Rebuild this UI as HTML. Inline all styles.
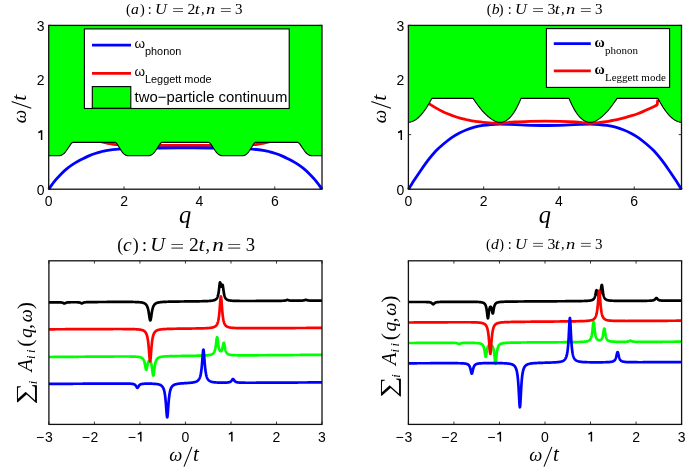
<!DOCTYPE html>
<html><head><meta charset="utf-8"><style>
html,body{margin:0;padding:0;background:#fff;}
body{width:685px;height:467px;overflow:hidden;}
svg{display:block;}
svg{will-change:transform;}
.tk{font-family:"Liberation Sans",sans-serif;font-size:14px;fill:#000;}
.lg2{font-family:"Liberation Sans",sans-serif;font-size:14.9px;fill:#000;}
.sub{font-family:"Liberation Sans",sans-serif;font-size:10.9px;fill:#000;}
.subs{font-family:"Liberation Serif",serif;font-size:11px;fill:#000;}
text{font-family:"Liberation Sans",sans-serif;}
</style></head><body>
<svg width="685" height="467" viewBox="0 0 685 467">
<rect width="685" height="467" fill="#fff"/>
<path d="M48.70,189.20v-2.8M48.70,25.40v2.8" stroke="#222" stroke-width="0.9"/>
<path d="M124.06,189.20v-2.8M124.06,25.40v2.8" stroke="#222" stroke-width="0.9"/>
<path d="M199.42,189.20v-2.8M199.42,25.40v2.8" stroke="#222" stroke-width="0.9"/>
<path d="M274.78,189.20v-2.8M274.78,25.40v2.8" stroke="#222" stroke-width="0.9"/>
<path d="M48.70,189.20h2.8M322.00,189.20h-2.8" stroke="#222" stroke-width="0.9"/>
<path d="M48.70,134.60h2.8M322.00,134.60h-2.8" stroke="#222" stroke-width="0.9"/>
<path d="M48.70,80.00h2.8M322.00,80.00h-2.8" stroke="#222" stroke-width="0.9"/>
<path d="M48.70,25.40h2.8M322.00,25.40h-2.8" stroke="#222" stroke-width="0.9"/>
<path d="M408.40,189.20v-2.8M408.40,25.40v2.8" stroke="#222" stroke-width="0.9"/>
<path d="M483.68,189.20v-2.8M483.68,25.40v2.8" stroke="#222" stroke-width="0.9"/>
<path d="M558.96,189.20v-2.8M558.96,25.40v2.8" stroke="#222" stroke-width="0.9"/>
<path d="M634.24,189.20v-2.8M634.24,25.40v2.8" stroke="#222" stroke-width="0.9"/>
<path d="M408.40,189.20h2.8M681.50,189.20h-2.8" stroke="#222" stroke-width="0.9"/>
<path d="M408.40,134.60h2.8M681.50,134.60h-2.8" stroke="#222" stroke-width="0.9"/>
<path d="M408.40,80.00h2.8M681.50,80.00h-2.8" stroke="#222" stroke-width="0.9"/>
<path d="M408.40,25.40h2.8M681.50,25.40h-2.8" stroke="#222" stroke-width="0.9"/>
<path d="M48.90,424.40v-2.8M48.90,260.80v2.8" stroke="#222" stroke-width="0.9"/>
<path d="M94.42,424.40v-2.8M94.42,260.80v2.8" stroke="#222" stroke-width="0.9"/>
<path d="M139.93,424.40v-2.8M139.93,260.80v2.8" stroke="#222" stroke-width="0.9"/>
<path d="M185.45,424.40v-2.8M185.45,260.80v2.8" stroke="#222" stroke-width="0.9"/>
<path d="M230.97,424.40v-2.8M230.97,260.80v2.8" stroke="#222" stroke-width="0.9"/>
<path d="M276.48,424.40v-2.8M276.48,260.80v2.8" stroke="#222" stroke-width="0.9"/>
<path d="M322.00,424.40v-2.8M322.00,260.80v2.8" stroke="#222" stroke-width="0.9"/>
<path d="M408.40,424.40v-2.8M408.40,260.80v2.8" stroke="#222" stroke-width="0.9"/>
<path d="M453.93,424.40v-2.8M453.93,260.80v2.8" stroke="#222" stroke-width="0.9"/>
<path d="M499.47,424.40v-2.8M499.47,260.80v2.8" stroke="#222" stroke-width="0.9"/>
<path d="M545.00,424.40v-2.8M545.00,260.80v2.8" stroke="#222" stroke-width="0.9"/>
<path d="M590.53,424.40v-2.8M590.53,260.80v2.8" stroke="#222" stroke-width="0.9"/>
<path d="M636.07,424.40v-2.8M636.07,260.80v2.8" stroke="#222" stroke-width="0.9"/>
<path d="M681.60,424.40v-2.8M681.60,260.80v2.8" stroke="#222" stroke-width="0.9"/>
<path d="M70.00,131.00 C72.50,131.92 80.83,135.07 85.00,136.50 C89.17,137.93 92.17,138.72 95.00,139.60 C97.83,140.48 99.83,141.15 102.00,141.80 C104.17,142.45 106.17,143.08 108.00,143.50 C109.83,143.92 111.50,144.10 113.00,144.30 C114.50,144.50 114.17,144.55 117.00,144.70 C119.83,144.85 124.50,145.08 130.00,145.20 C135.50,145.32 140.78,145.35 150.00,145.40 C159.22,145.45 173.57,145.50 185.35,145.50 C197.13,145.50 211.47,145.45 220.70,145.40 C229.92,145.35 235.20,145.32 240.70,145.20 C246.20,145.08 250.87,144.85 253.70,144.70 C256.53,144.55 256.20,144.50 257.70,144.30 C259.20,144.10 260.87,143.92 262.70,143.50 C264.53,143.08 266.53,142.45 268.70,141.80 C270.87,141.15 272.87,140.48 275.70,139.60 C278.53,138.72 281.53,137.93 285.70,136.50 C289.87,135.07 298.20,131.92 300.70,131.00" fill="none" stroke="#f00" stroke-width="2.80" stroke-linejoin="round" stroke-linecap="butt"/>
<path d="M48.70,189.20 C49.25,188.43 50.77,186.23 52.00,184.60 C53.23,182.97 54.48,181.27 56.10,179.40 C57.72,177.53 59.83,175.23 61.70,173.40 C63.57,171.57 65.45,169.90 67.30,168.40 C69.15,166.90 70.95,165.63 72.80,164.40 C74.65,163.17 76.53,162.03 78.40,161.00 C80.27,159.97 82.15,159.10 84.00,158.20 C85.85,157.30 87.65,156.38 89.50,155.60 C91.35,154.82 93.23,154.13 95.10,153.50 C96.97,152.87 98.88,152.28 100.70,151.80 C102.52,151.32 103.05,151.05 106.00,150.60 C108.95,150.15 113.57,149.48 118.40,149.10 C123.23,148.72 128.07,148.48 135.00,148.30 C141.93,148.12 151.61,148.07 160.00,148.00 C168.39,147.93 176.90,147.90 185.35,147.90 C193.80,147.90 202.31,147.93 210.70,148.00 C219.09,148.07 228.77,148.12 235.70,148.30 C242.63,148.48 247.47,148.72 252.30,149.10 C257.13,149.48 261.75,150.15 264.70,150.60 C267.65,151.05 268.18,151.32 270.00,151.80 C271.82,152.28 273.73,152.87 275.60,153.50 C277.47,154.13 279.35,154.82 281.20,155.60 C283.05,156.38 284.85,157.30 286.70,158.20 C288.55,159.10 290.43,159.97 292.30,161.00 C294.17,162.03 296.05,163.17 297.90,164.40 C299.75,165.63 301.55,166.90 303.40,168.40 C305.25,169.90 307.13,171.57 309.00,173.40 C310.87,175.23 312.98,177.53 314.60,179.40 C316.22,181.27 317.47,182.97 318.70,184.60 C319.93,186.23 321.45,188.43 322.00,189.20" fill="none" stroke="#00f" stroke-width="2.80" stroke-linejoin="round" stroke-linecap="butt"/>
<path d="M48.70,155.80L59.00,155.80L59.70,155.66L60.39,155.53L61.09,155.36L61.78,154.98L62.48,154.59L63.17,154.11L63.87,153.55L64.56,152.96L65.25,152.11L65.95,151.26L66.65,150.30L67.34,149.26L68.03,148.23L68.73,147.20L69.43,146.17L70.12,145.14L70.82,144.19L71.51,143.43L72.21,142.66L72.90,142.35L115.30,142.35L115.94,142.66L116.57,143.43L117.20,144.19L117.84,145.14L118.47,146.17L119.11,147.20L119.75,148.23L120.38,149.26L121.02,150.30L121.65,151.26L122.28,152.11L122.92,152.96L123.55,153.55L124.19,154.11L124.83,154.59L125.46,154.98L126.09,155.36L126.73,155.53L127.36,155.66L128.00,155.80L148.40,155.80L149.08,155.66L149.75,155.53L150.43,155.36L151.10,154.98L151.78,154.59L152.45,154.11L153.12,153.55L153.80,152.96L154.47,152.11L155.15,151.26L155.83,150.30L156.50,149.26L157.18,148.23L157.85,147.20L158.53,146.17L159.20,145.14L159.88,144.19L160.55,143.43L161.22,142.66L161.90,142.35L208.80,142.35L209.47,142.66L210.15,143.43L210.82,144.19L211.50,145.14L212.17,146.17L212.85,147.20L213.52,148.23L214.20,149.26L214.87,150.30L215.55,151.26L216.22,152.11L216.90,152.96L217.57,153.55L218.25,154.11L218.92,154.59L219.60,154.98L220.27,155.36L220.95,155.53L221.62,155.66L222.30,155.80L242.70,155.80L243.33,155.66L243.97,155.53L244.60,155.36L245.24,154.98L245.88,154.59L246.51,154.11L247.14,153.55L247.78,152.96L248.41,152.11L249.05,151.26L249.68,150.30L250.32,149.26L250.95,148.23L251.59,147.20L252.22,146.17L252.86,145.14L253.49,144.19L254.13,143.43L254.76,142.66L255.40,142.35L297.80,142.35L298.49,142.66L299.19,143.43L299.88,144.19L300.58,145.14L301.27,146.17L301.97,147.20L302.66,148.23L303.36,149.26L304.05,150.30L304.75,151.26L305.44,152.11L306.14,152.96L306.83,153.55L307.53,154.11L308.22,154.59L308.92,154.98L309.62,155.36L310.31,155.53L311.00,155.66L311.70,155.80L322.00,155.80L322.00,25.40L48.70,25.40Z" fill="#0f0"/>
<path d="M48.70,155.80L59.00,155.80L59.70,155.66L60.39,155.53L61.09,155.36L61.78,154.98L62.48,154.59L63.17,154.11L63.87,153.55L64.56,152.96L65.25,152.11L65.95,151.26L66.65,150.30L67.34,149.26L68.03,148.23L68.73,147.20L69.43,146.17L70.12,145.14L70.82,144.19L71.51,143.43L72.21,142.66L72.90,142.35L115.30,142.35L115.94,142.66L116.57,143.43L117.20,144.19L117.84,145.14L118.47,146.17L119.11,147.20L119.75,148.23L120.38,149.26L121.02,150.30L121.65,151.26L122.28,152.11L122.92,152.96L123.55,153.55L124.19,154.11L124.83,154.59L125.46,154.98L126.09,155.36L126.73,155.53L127.36,155.66L128.00,155.80L148.40,155.80L149.08,155.66L149.75,155.53L150.43,155.36L151.10,154.98L151.78,154.59L152.45,154.11L153.12,153.55L153.80,152.96L154.47,152.11L155.15,151.26L155.83,150.30L156.50,149.26L157.18,148.23L157.85,147.20L158.53,146.17L159.20,145.14L159.88,144.19L160.55,143.43L161.22,142.66L161.90,142.35L208.80,142.35L209.47,142.66L210.15,143.43L210.82,144.19L211.50,145.14L212.17,146.17L212.85,147.20L213.52,148.23L214.20,149.26L214.87,150.30L215.55,151.26L216.22,152.11L216.90,152.96L217.57,153.55L218.25,154.11L218.92,154.59L219.60,154.98L220.27,155.36L220.95,155.53L221.62,155.66L222.30,155.80L242.70,155.80L243.33,155.66L243.97,155.53L244.60,155.36L245.24,154.98L245.88,154.59L246.51,154.11L247.14,153.55L247.78,152.96L248.41,152.11L249.05,151.26L249.68,150.30L250.32,149.26L250.95,148.23L251.59,147.20L252.22,146.17L252.86,145.14L253.49,144.19L254.13,143.43L254.76,142.66L255.40,142.35L297.80,142.35L298.49,142.66L299.19,143.43L299.88,144.19L300.58,145.14L301.27,146.17L301.97,147.20L302.66,148.23L303.36,149.26L304.05,150.30L304.75,151.26L305.44,152.11L306.14,152.96L306.83,153.55L307.53,154.11L308.22,154.59L308.92,154.98L309.62,155.36L310.31,155.53L311.00,155.66L311.70,155.80L322.00,155.80" fill="none" stroke="#000" stroke-width="1.10" stroke-linejoin="round" stroke-linecap="butt"/>
<path d="M408.40,189.20 C408.83,188.53 410.02,186.72 411.00,185.20 C411.98,183.68 412.73,182.47 414.30,180.10 C415.87,177.73 418.10,174.32 420.40,171.00 C422.70,167.68 425.53,163.53 428.10,160.20 C430.67,156.87 433.23,153.70 435.80,151.00 C438.37,148.30 440.92,146.20 443.50,144.00 C446.08,141.80 448.72,139.60 451.30,137.80 C453.88,136.00 456.43,134.55 459.00,133.20 C461.57,131.85 464.13,130.70 466.70,129.70 C469.27,128.70 471.68,127.92 474.40,127.20 C477.12,126.48 480.23,125.85 483.00,125.40 C485.77,124.95 488.23,124.72 491.00,124.50 C493.77,124.28 496.43,124.12 499.60,124.10 C502.77,124.08 505.77,124.23 510.00,124.40 C514.23,124.57 519.17,124.92 525.00,125.10 C530.83,125.28 538.35,125.50 545.00,125.50 C551.65,125.50 559.08,125.28 564.90,125.10 C570.72,124.92 575.67,124.57 579.90,124.40 C584.13,124.23 587.13,124.08 590.30,124.10 C593.47,124.12 596.13,124.28 598.90,124.50 C601.67,124.72 604.13,124.95 606.90,125.40 C609.67,125.85 612.78,126.48 615.50,127.20 C618.22,127.92 620.63,128.70 623.20,129.70 C625.77,130.70 628.33,131.85 630.90,133.20 C633.47,134.55 636.02,136.00 638.60,137.80 C641.18,139.60 643.82,141.80 646.40,144.00 C648.98,146.20 651.53,148.30 654.10,151.00 C656.67,153.70 659.23,156.87 661.80,160.20 C664.37,163.53 667.20,167.68 669.50,171.00 C671.80,174.32 674.03,177.73 675.60,180.10 C677.17,182.47 677.92,183.68 678.90,185.20 C679.88,186.72 681.07,188.53 681.50,189.20" fill="none" stroke="#00f" stroke-width="2.80" stroke-linejoin="round" stroke-linecap="butt"/>
<path d="M428.50,103.20 C428.70,103.35 428.33,103.23 429.70,104.10 C431.07,104.97 434.57,107.18 436.70,108.40 C438.83,109.62 440.55,110.47 442.50,111.40 C444.45,112.33 446.45,113.18 448.40,114.00 C450.35,114.82 452.27,115.62 454.20,116.30 C456.13,116.98 458.05,117.57 460.00,118.10 C461.95,118.63 463.95,119.05 465.90,119.50 C467.85,119.95 469.75,120.43 471.70,120.80 C473.65,121.17 475.65,121.43 477.60,121.70 C479.55,121.97 481.47,122.20 483.40,122.40 C485.33,122.60 487.25,122.77 489.20,122.90 C491.15,123.03 493.35,123.13 495.10,123.20 C496.85,123.27 498.05,123.37 499.70,123.30 C501.35,123.23 502.45,123.03 505.00,122.80 C507.55,122.57 510.83,122.13 515.00,121.90 C519.17,121.67 525.00,121.52 530.00,121.40 C535.00,121.28 540.00,121.20 545.00,121.20 C550.00,121.20 555.00,121.27 560.00,121.40 C565.00,121.53 570.83,121.75 575.00,122.00 C579.17,122.25 582.37,122.68 585.00,122.90 C587.63,123.12 588.85,123.32 590.80,123.30 C592.75,123.28 594.75,123.00 596.70,122.80 C598.65,122.60 600.55,122.35 602.50,122.10 C604.45,121.85 606.45,121.62 608.40,121.30 C610.35,120.98 612.27,120.60 614.20,120.20 C616.13,119.80 618.05,119.37 620.00,118.90 C621.95,118.43 623.95,117.93 625.90,117.40 C627.85,116.87 629.75,116.32 631.70,115.70 C633.65,115.08 635.65,114.42 637.60,113.70 C639.55,112.98 641.47,112.22 643.40,111.40 C645.33,110.58 647.25,109.68 649.20,108.80 C651.15,107.92 653.77,106.80 655.10,106.10 C656.43,105.40 656.85,104.85 657.20,104.60 L657.8,99.6" fill="none" stroke="#f00" stroke-width="2.80" stroke-linejoin="round" stroke-linecap="butt"/>
<path d="M408.40,122.30L409.38,122.24L410.35,122.09L411.32,121.84L412.30,121.51L413.27,121.09L414.25,120.58L415.22,120.00L416.20,119.34L417.18,118.59L418.15,117.77L419.12,116.87L420.10,115.90L421.07,114.84L422.05,113.72L423.02,112.51L424.00,111.24L424.98,109.89L425.95,108.46L426.93,106.97L427.90,105.40L428.88,103.76L429.85,102.04L430.82,100.26L431.80,98.40L473.10,98.40L474.20,100.07L475.31,101.69L476.41,103.25L477.52,104.77L478.62,106.23L479.73,107.64L480.83,109.00L481.93,110.30L483.04,111.55L484.14,112.74L485.25,113.87L486.35,114.94L487.45,115.96L488.56,116.90L489.66,117.79L490.77,118.61L491.87,119.36L492.98,120.04L494.08,120.64L495.18,121.16L496.29,121.60L497.39,121.95L498.50,122.19L499.60,122.30L500.49,122.28L501.38,122.20L502.28,122.05L503.17,121.84L504.06,121.54L504.95,121.17L505.84,120.71L506.73,120.17L507.62,119.54L508.52,118.82L509.41,118.00L510.30,117.10L511.19,116.10L512.08,115.00L512.98,113.80L513.87,112.51L514.76,111.11L515.65,109.61L516.54,108.00L517.43,106.30L518.33,104.48L519.22,102.56L520.11,100.54L521.00,98.40L569.00,98.40L569.90,100.54L570.81,102.56L571.71,104.48L572.62,106.30L573.52,108.00L574.42,109.61L575.33,111.11L576.23,112.51L577.14,113.80L578.04,115.00L578.95,116.10L579.85,117.10L580.75,118.00L581.66,118.82L582.56,119.54L583.47,120.17L584.37,120.71L585.28,121.17L586.18,121.54L587.08,121.84L587.99,122.05L588.89,122.20L589.80,122.28L590.70,122.30L591.80,122.19L592.89,121.95L593.99,121.60L595.08,121.16L596.18,120.64L597.28,120.04L598.37,119.36L599.47,118.61L600.56,117.79L601.66,116.90L602.75,115.96L603.85,114.94L604.95,113.87L606.04,112.74L607.14,111.55L608.23,110.30L609.33,109.00L610.42,107.64L611.52,106.23L612.62,104.77L613.71,103.25L614.81,101.69L615.90,100.07L617.00,98.40L658.00,98.40L658.98,100.26L659.96,102.04L660.94,103.76L661.92,105.40L662.90,106.97L663.88,108.46L664.85,109.89L665.83,111.24L666.81,112.51L667.79,113.72L668.77,114.84L669.75,115.90L670.73,116.87L671.71,117.77L672.69,118.59L673.67,119.34L674.65,120.00L675.62,120.58L676.60,121.09L677.58,121.51L678.56,121.84L679.54,122.09L680.52,122.24L681.50,122.30L681.50,25.40L408.40,25.40Z" fill="#0f0"/>
<path d="M408.40,122.30L409.38,122.24L410.35,122.09L411.32,121.84L412.30,121.51L413.27,121.09L414.25,120.58L415.22,120.00L416.20,119.34L417.18,118.59L418.15,117.77L419.12,116.87L420.10,115.90L421.07,114.84L422.05,113.72L423.02,112.51L424.00,111.24L424.98,109.89L425.95,108.46L426.93,106.97L427.90,105.40L428.88,103.76L429.85,102.04L430.82,100.26L431.80,98.40L473.10,98.40L474.20,100.07L475.31,101.69L476.41,103.25L477.52,104.77L478.62,106.23L479.73,107.64L480.83,109.00L481.93,110.30L483.04,111.55L484.14,112.74L485.25,113.87L486.35,114.94L487.45,115.96L488.56,116.90L489.66,117.79L490.77,118.61L491.87,119.36L492.98,120.04L494.08,120.64L495.18,121.16L496.29,121.60L497.39,121.95L498.50,122.19L499.60,122.30L500.49,122.28L501.38,122.20L502.28,122.05L503.17,121.84L504.06,121.54L504.95,121.17L505.84,120.71L506.73,120.17L507.62,119.54L508.52,118.82L509.41,118.00L510.30,117.10L511.19,116.10L512.08,115.00L512.98,113.80L513.87,112.51L514.76,111.11L515.65,109.61L516.54,108.00L517.43,106.30L518.33,104.48L519.22,102.56L520.11,100.54L521.00,98.40L569.00,98.40L569.90,100.54L570.81,102.56L571.71,104.48L572.62,106.30L573.52,108.00L574.42,109.61L575.33,111.11L576.23,112.51L577.14,113.80L578.04,115.00L578.95,116.10L579.85,117.10L580.75,118.00L581.66,118.82L582.56,119.54L583.47,120.17L584.37,120.71L585.28,121.17L586.18,121.54L587.08,121.84L587.99,122.05L588.89,122.20L589.80,122.28L590.70,122.30L591.80,122.19L592.89,121.95L593.99,121.60L595.08,121.16L596.18,120.64L597.28,120.04L598.37,119.36L599.47,118.61L600.56,117.79L601.66,116.90L602.75,115.96L603.85,114.94L604.95,113.87L606.04,112.74L607.14,111.55L608.23,110.30L609.33,109.00L610.42,107.64L611.52,106.23L612.62,104.77L613.71,103.25L614.81,101.69L615.90,100.07L617.00,98.40L658.00,98.40L658.98,100.26L659.96,102.04L660.94,103.76L661.92,105.40L662.90,106.97L663.88,108.46L664.85,109.89L665.83,111.24L666.81,112.51L667.79,113.72L668.77,114.84L669.75,115.90L670.73,116.87L671.71,117.77L672.69,118.59L673.67,119.34L674.65,120.00L675.62,120.58L676.60,121.09L677.58,121.51L678.56,121.84L679.54,122.09L680.52,122.24L681.50,122.30" fill="none" stroke="#000" stroke-width="1.10" stroke-linejoin="round" stroke-linecap="butt"/>
<path d="M48.90,302.32L49.40,302.32L49.90,302.31L50.40,302.31L50.90,302.31L51.40,302.31L51.90,302.31L52.40,302.31L52.90,302.30L53.40,302.30L53.90,302.30L54.40,302.30L54.90,302.30L55.40,302.30L55.90,302.30L56.40,302.31L56.90,302.31L57.40,302.31L57.90,302.32L58.40,302.33L58.40,302.33L58.55,302.33L58.70,302.33L58.85,302.34L58.90,302.34L59.00,302.34L59.15,302.35L59.30,302.35L59.40,302.35L59.45,302.35L59.60,302.36L59.75,302.37L59.90,302.37L59.90,302.37L60.05,302.38L60.20,302.39L60.35,302.40L60.40,302.40L60.50,302.41L60.65,302.42L60.80,302.43L60.90,302.44L60.95,302.44L61.10,302.46L61.25,302.48L61.40,302.49L61.40,302.49L61.55,302.52L61.70,302.54L61.85,302.57L61.90,302.58L62.00,302.60L62.15,302.63L62.30,302.67L62.40,302.70L62.45,302.71L62.60,302.76L62.75,302.82L62.90,302.88L62.90,302.88L63.05,302.94L63.20,303.02L63.35,303.10L63.40,303.12L63.50,303.18L63.65,303.26L63.80,303.34L63.90,303.39L63.95,303.41L64.10,303.47L64.25,303.51L64.40,303.52L64.40,303.52L64.55,303.51L64.70,303.47L64.85,303.41L64.90,303.39L65.00,303.34L65.15,303.26L65.30,303.17L65.40,303.11L65.45,303.09L65.60,303.01L65.75,302.93L65.90,302.86L65.90,302.86L66.05,302.80L66.20,302.74L66.35,302.69L66.40,302.68L66.50,302.65L66.65,302.61L66.80,302.57L66.90,302.55L66.95,302.54L67.10,302.51L67.25,302.49L67.40,302.47L67.40,302.47L67.55,302.45L67.70,302.43L67.85,302.41L67.90,302.41L68.00,302.40L68.15,302.38L68.30,302.37L68.40,302.36L68.45,302.36L68.60,302.35L68.75,302.34L68.90,302.33L68.90,302.33L69.05,302.32L69.20,302.31L69.35,302.31L69.40,302.31L69.50,302.30L69.65,302.30L69.80,302.29L69.90,302.29L69.95,302.29L70.10,302.28L70.25,302.28L70.40,302.27L70.90,302.26L71.40,302.25L71.90,302.24L72.40,302.24L72.90,302.23L73.40,302.23L73.90,302.23L74.40,302.23L74.90,302.23L75.40,302.23L75.80,302.24L75.90,302.24L75.95,302.24L76.10,302.24L76.25,302.25L76.40,302.25L76.40,302.25L76.55,302.25L76.70,302.26L76.85,302.26L76.90,302.26L77.00,302.27L77.15,302.27L77.30,302.28L77.40,302.28L77.45,302.29L77.60,302.29L77.75,302.30L77.90,302.31L77.90,302.31L78.05,302.32L78.20,302.33L78.35,302.35L78.40,302.35L78.50,302.36L78.65,302.38L78.80,302.40L78.90,302.41L78.95,302.42L79.10,302.44L79.25,302.47L79.40,302.50L79.40,302.50L79.55,302.53L79.70,302.57L79.85,302.61L79.90,302.63L80.00,302.66L80.15,302.72L80.30,302.78L80.40,302.82L80.45,302.84L80.60,302.92L80.75,303.00L80.90,303.08L80.90,303.08L81.05,303.16L81.20,303.24L81.35,303.31L81.40,303.33L81.50,303.37L81.65,303.40L81.80,303.42L81.90,303.41L81.95,303.40L82.10,303.36L82.25,303.30L82.40,303.23L82.40,303.23L82.55,303.15L82.70,303.06L82.85,302.98L82.90,302.95L83.00,302.90L83.15,302.82L83.30,302.75L83.40,302.71L83.45,302.69L83.60,302.64L83.75,302.59L83.90,302.54L83.90,302.54L84.05,302.50L84.20,302.46L84.35,302.43L84.40,302.42L84.50,302.40L84.65,302.38L84.80,302.35L84.90,302.34L84.95,302.33L85.10,302.32L85.25,302.30L85.40,302.28L85.40,302.28L85.55,302.27L85.70,302.26L85.85,302.24L85.90,302.24L86.00,302.23L86.15,302.22L86.30,302.22L86.40,302.21L86.45,302.21L86.60,302.20L86.75,302.19L86.90,302.19L86.90,302.19L87.05,302.18L87.20,302.17L87.35,302.17L87.40,302.17L87.50,302.16L87.65,302.16L87.90,302.15L88.40,302.14L88.90,302.12L89.40,302.11L89.90,302.11L90.40,302.10L90.90,302.09L91.40,302.08L91.90,302.08L92.40,302.07L92.90,302.07L93.40,302.06L93.90,302.06L94.40,302.05L94.90,302.05L95.40,302.05L95.90,302.04L96.40,302.04L96.90,302.03L97.40,302.03L97.90,302.03L98.40,302.02L98.90,302.02L99.40,302.02L99.90,302.01L100.40,302.01L100.90,302.01L101.40,302.00L101.90,302.00L102.40,302.00L102.90,302.00L103.40,301.99L103.90,301.99L104.40,301.99L104.90,301.98L105.40,301.98L105.90,301.98L106.40,301.98L106.90,301.97L107.40,301.97L107.90,301.97L108.40,301.97L108.90,301.96L109.40,301.96L109.90,301.96L110.40,301.96L110.90,301.95L111.40,301.95L111.90,301.95L112.40,301.95L112.90,301.94L113.40,301.94L113.90,301.94L114.40,301.94L114.90,301.94L115.40,301.94L115.90,301.93L116.40,301.93L116.90,301.93L117.40,301.93L117.90,301.93L118.40,301.93L118.90,301.92L119.40,301.92L119.90,301.92L120.40,301.92L120.90,301.92L121.40,301.92L121.90,301.92L122.40,301.92L122.90,301.92L123.40,301.92L123.90,301.92L124.40,301.92L124.90,301.92L125.40,301.92L125.90,301.92L126.40,301.92L126.90,301.92L127.40,301.92L127.90,301.93L128.40,301.93L128.90,301.93L129.40,301.93L129.90,301.94L130.40,301.94L130.90,301.95L131.40,301.95L131.90,301.96L132.40,301.96L132.90,301.97L133.40,301.98L133.90,301.99L134.40,302.00L134.90,302.01L135.40,302.03L135.90,302.04L136.40,302.06L136.90,302.08L137.40,302.10L137.90,302.13L138.40,302.16L138.90,302.19L139.40,302.23L139.90,302.27L140.40,302.33L140.90,302.39L141.40,302.46L141.90,302.54L142.40,302.64L142.90,302.76L143.10,302.81L143.25,302.86L143.40,302.90L143.40,302.90L143.55,302.95L143.70,303.00L143.85,303.06L143.90,303.08L144.00,303.12L144.15,303.18L144.30,303.25L144.40,303.30L144.45,303.32L144.60,303.40L144.75,303.49L144.90,303.57L144.90,303.57L145.05,303.67L145.20,303.78L145.35,303.89L145.40,303.93L145.50,304.01L145.65,304.14L145.80,304.28L145.90,304.38L145.95,304.44L146.10,304.60L146.25,304.79L146.40,304.99L146.40,304.99L146.55,305.20L146.70,305.44L146.85,305.70L146.90,305.80L147.00,305.99L147.15,306.31L147.30,306.66L147.40,306.91L147.45,307.04L147.60,307.46L147.75,307.93L147.90,308.44L147.90,308.44L148.05,309.01L148.20,309.64L148.35,310.32L148.40,310.56L148.50,311.07L148.65,311.89L148.80,312.76L148.90,313.38L148.95,313.70L149.10,314.68L149.25,315.69L149.40,316.71L149.40,316.71L149.55,317.68L149.70,318.58L149.85,319.36L149.90,319.58L150.00,319.95L150.15,320.33L150.30,320.46L150.40,320.40L150.45,320.33L150.60,319.95L150.75,319.35L150.90,318.58L150.90,318.58L151.05,317.67L151.20,316.69L151.35,315.68L151.40,315.34L151.50,314.67L151.65,313.68L151.80,312.75L151.90,312.15L151.95,311.86L152.10,311.05L152.25,310.30L152.40,309.61L152.40,309.61L152.55,308.98L152.70,308.41L152.85,307.90L152.90,307.73L153.00,307.43L153.15,307.00L153.30,306.62L153.40,306.38L153.45,306.27L153.60,305.95L153.75,305.66L153.90,305.40L153.90,305.40L154.05,305.16L154.20,304.94L154.35,304.73L154.40,304.67L154.50,304.55L154.65,304.38L154.80,304.22L154.90,304.13L154.95,304.08L155.10,303.95L155.25,303.82L155.40,303.71L155.40,303.71L155.55,303.60L155.70,303.50L155.85,303.41L155.90,303.38L156.00,303.33L156.15,303.25L156.30,303.17L156.40,303.13L156.45,303.10L156.60,303.04L156.75,302.98L156.90,302.92L156.90,302.92L157.05,302.86L157.20,302.81L157.35,302.76L157.40,302.75L157.90,302.61L158.40,302.49L158.90,302.39L159.40,302.31L159.90,302.23L160.40,302.17L160.90,302.12L161.40,302.07L161.90,302.03L162.40,301.99L162.90,301.95L163.40,301.92L163.90,301.89L164.40,301.87L164.90,301.84L165.40,301.82L165.90,301.80L166.40,301.78L166.90,301.77L167.40,301.75L167.90,301.74L168.40,301.72L168.90,301.71L169.40,301.70L169.90,301.69L170.40,301.67L170.90,301.66L171.40,301.65L171.90,301.64L172.40,301.63L172.90,301.63L173.40,301.62L173.90,301.61L174.40,301.60L174.90,301.59L175.40,301.59L175.90,301.58L176.40,301.57L176.90,301.56L177.40,301.56L177.90,301.55L178.40,301.54L178.90,301.54L179.40,301.53L179.90,301.52L180.40,301.52L180.90,301.51L181.40,301.51L181.90,301.50L182.40,301.50L182.90,301.49L183.40,301.48L183.90,301.48L184.40,301.47L184.90,301.47L185.40,301.46L185.90,301.46L186.40,301.45L186.90,301.44L187.40,301.44L187.90,301.43L188.40,301.43L188.90,301.42L189.40,301.42L189.90,301.41L190.40,301.40L190.90,301.40L191.40,301.39L191.90,301.39L192.40,301.38L192.90,301.37L193.40,301.37L193.90,301.36L194.40,301.36L194.90,301.35L195.40,301.34L195.90,301.34L196.40,301.33L196.90,301.32L197.40,301.31L197.90,301.31L198.40,301.30L198.90,301.29L199.40,301.28L199.90,301.27L200.40,301.27L200.90,301.26L201.40,301.25L201.90,301.24L202.40,301.22L202.90,301.21L203.40,301.20L203.90,301.19L204.40,301.17L204.90,301.16L205.40,301.14L205.90,301.13L206.40,301.11L206.90,301.09L207.40,301.07L207.90,301.04L208.40,301.02L208.90,300.99L209.40,300.95L209.90,300.91L210.40,300.87L210.90,300.82L211.40,300.77L211.90,300.70L212.40,300.63L212.90,300.54L213.40,300.43L213.90,300.30L214.40,300.13L214.80,299.97L214.90,299.93L214.95,299.91L215.10,299.83L215.25,299.75L215.40,299.67L215.40,299.67L215.55,299.57L215.70,299.47L215.85,299.36L215.90,299.32L216.00,299.24L216.15,299.10L216.30,298.96L216.40,298.85L216.45,298.79L216.60,298.62L216.75,298.42L216.90,298.20L216.90,298.20L217.05,297.95L217.20,297.68L217.35,297.37L217.40,297.25L217.50,297.02L217.55,296.89L217.65,296.62L217.70,296.48L217.80,296.17L217.85,296.01L217.90,295.84L217.95,295.66L218.00,295.48L218.10,295.08L218.15,294.87L218.25,294.42L218.30,294.18L218.40,293.67L218.40,293.67L218.45,293.40L218.55,292.81L218.60,292.50L218.70,291.85L218.75,291.50L218.85,290.76L218.90,290.37L218.90,290.37L219.00,289.56L219.05,289.14L219.15,288.28L219.20,287.83L219.30,286.93L219.35,286.48L219.40,286.04L219.45,285.60L219.50,285.18L219.60,284.38L219.65,284.01L219.75,283.37L219.80,283.10L219.90,282.68L219.90,282.68L219.95,282.53L220.05,282.37L220.10,282.35L220.20,282.45L220.25,282.55L220.35,282.86L220.40,283.06L220.40,283.06L220.50,283.50L220.55,283.75L220.65,284.25L220.70,284.51L220.80,285.00L220.85,285.23L220.90,285.46L220.95,285.66L221.00,285.85L221.10,286.18L221.15,286.31L221.25,286.52L221.30,286.59L221.40,286.66L221.40,286.66L221.45,286.67L221.55,286.62L221.60,286.56L221.70,286.40L221.75,286.30L221.85,286.05L221.90,285.91L221.90,285.91L222.00,285.62L222.05,285.48L222.15,285.20L222.20,285.07L222.30,284.87L222.35,284.80L222.40,284.76L222.45,284.74L222.50,284.76L222.60,284.89L222.65,285.01L222.75,285.34L222.80,285.56L222.90,286.08L222.90,286.08L222.95,286.38L223.05,287.04L223.10,287.39L223.20,288.13L223.25,288.51L223.35,289.28L223.40,289.66L223.40,289.66L223.50,290.40L223.55,290.77L223.65,291.47L223.70,291.81L223.80,292.45L223.85,292.76L223.90,293.05L223.95,293.33L224.00,293.61L224.10,294.12L224.15,294.36L224.25,294.82L224.30,295.03L224.40,295.43L224.40,295.43L224.45,295.61L224.55,295.96L224.60,296.13L224.70,296.44L224.75,296.58L224.85,296.85L224.90,296.98L224.90,296.98L225.00,297.22L225.05,297.33L225.15,297.54L225.20,297.64L225.35,297.92L225.40,298.00L225.50,298.16L225.65,298.38L225.80,298.58L225.90,298.70L225.95,298.76L226.10,298.91L226.25,299.06L226.40,299.19L226.40,299.19L226.55,299.31L226.70,299.42L226.85,299.52L226.90,299.55L227.00,299.61L227.15,299.69L227.30,299.77L227.40,299.82L227.45,299.84L227.60,299.91L227.75,299.97L227.90,300.02L228.40,300.19L228.90,300.32L229.40,300.42L229.90,300.50L230.40,300.58L230.90,300.63L231.40,300.68L231.90,300.73L232.40,300.76L232.90,300.79L233.40,300.82L233.90,300.84L234.40,300.86L234.90,300.88L235.40,300.90L235.90,300.91L236.40,300.92L236.90,300.93L237.40,300.94L237.90,300.95L238.40,300.96L238.90,300.96L239.40,300.97L239.90,300.98L240.40,300.98L240.90,300.98L241.40,300.99L241.90,300.99L242.40,300.99L242.90,300.99L243.40,300.99L243.90,301.00L244.40,301.00L244.90,301.00L245.40,301.00L245.90,301.00L246.40,301.00L246.90,301.00L247.40,301.00L247.90,301.00L248.40,301.00L248.90,300.99L249.40,300.99L249.90,300.99L250.40,300.99L250.90,300.99L251.40,300.99L251.90,300.99L252.40,300.99L252.90,300.98L253.40,300.98L253.90,300.98L254.40,300.98L254.90,300.98L255.40,300.98L255.90,300.97L256.40,300.97L256.90,300.97L257.40,300.97L257.90,300.96L258.40,300.96L258.90,300.96L259.40,300.96L259.90,300.96L260.40,300.95L260.90,300.95L261.40,300.95L261.90,300.95L262.40,300.94L262.90,300.94L263.40,300.94L263.90,300.93L264.40,300.93L264.90,300.93L265.40,300.93L265.90,300.92L266.40,300.92L266.90,300.92L267.40,300.91L267.90,300.91L268.40,300.91L268.90,300.91L269.40,300.90L269.90,300.90L270.40,300.90L270.90,300.89L271.40,300.89L271.90,300.89L272.40,300.88L272.90,300.88L273.40,300.88L273.90,300.87L274.40,300.87L274.90,300.87L275.40,300.86L275.90,300.86L276.40,300.85L276.90,300.85L277.40,300.84L277.90,300.84L278.40,300.83L278.90,300.83L279.40,300.82L279.90,300.81L280.40,300.81L280.90,300.80L281.40,300.79L281.55,300.78L281.70,300.78L281.85,300.78L281.90,300.77L282.00,300.77L282.15,300.77L282.30,300.76L282.40,300.76L282.45,300.76L282.60,300.75L282.75,300.75L282.90,300.74L282.90,300.74L283.05,300.73L283.20,300.73L283.35,300.72L283.40,300.72L283.50,300.71L283.65,300.70L283.80,300.69L283.90,300.68L283.95,300.68L284.10,300.67L284.25,300.66L284.40,300.64L284.40,300.64L284.55,300.62L284.70,300.61L284.85,300.59L284.90,300.58L285.00,300.56L285.15,300.54L285.30,300.51L285.40,300.49L285.45,300.48L285.60,300.44L285.75,300.40L285.90,300.36L285.90,300.36L286.05,300.31L286.20,300.26L286.35,300.20L286.40,300.18L286.50,300.15L286.65,300.09L286.80,300.03L286.90,299.99L286.95,299.98L287.10,299.94L287.25,299.91L287.40,299.90L287.40,299.90L287.55,299.91L287.70,299.93L287.85,299.97L287.90,299.99L288.00,300.02L288.15,300.08L288.30,300.13L288.40,300.17L288.45,300.19L288.60,300.24L288.75,300.30L288.90,300.34L288.90,300.34L289.05,300.38L289.20,300.42L289.35,300.45L289.40,300.46L289.50,300.48L289.65,300.51L289.80,300.53L289.90,300.55L289.95,300.55L290.10,300.57L290.25,300.59L290.40,300.60L290.40,300.60L290.55,300.61L290.70,300.62L290.85,300.63L290.90,300.64L291.00,300.64L291.15,300.65L291.30,300.66L291.40,300.66L291.45,300.67L291.60,300.67L291.75,300.68L291.90,300.68L291.90,300.68L292.05,300.68L292.20,300.69L292.35,300.69L292.40,300.69L292.50,300.69L292.65,300.70L292.80,300.70L292.90,300.70L292.95,300.70L293.10,300.70L293.25,300.70L293.40,300.71L293.90,300.71L294.40,300.71L294.90,300.71L295.40,300.71L295.90,300.71L296.40,300.71L296.90,300.70L297.40,300.70L297.90,300.70L298.40,300.69L298.90,300.68L299.40,300.67L299.80,300.67L299.90,300.66L299.95,300.66L300.10,300.66L300.25,300.66L300.40,300.65L300.40,300.65L300.55,300.65L300.70,300.64L300.85,300.64L300.90,300.64L301.00,300.63L301.15,300.63L301.30,300.62L301.40,300.62L301.45,300.62L301.60,300.61L301.75,300.60L301.90,300.59L301.90,300.59L302.05,300.59L302.20,300.58L302.35,300.57L302.40,300.56L302.50,300.55L302.65,300.54L302.80,300.53L302.90,300.52L302.95,300.51L303.10,300.49L303.25,300.47L303.40,300.45L303.40,300.45L303.55,300.43L303.70,300.40L303.85,300.37L303.90,300.36L304.00,300.33L304.15,300.29L304.30,300.25L304.40,300.22L304.45,300.20L304.60,300.15L304.75,300.09L304.90,300.03L304.90,300.03L305.05,299.97L305.20,299.92L305.35,299.87L305.40,299.85L305.50,299.83L305.65,299.80L305.80,299.79L305.90,299.79L305.95,299.80L306.10,299.82L306.25,299.86L306.40,299.91L306.40,299.91L306.55,299.97L306.70,300.02L306.85,300.08L306.90,300.10L307.00,300.14L307.15,300.19L307.30,300.23L307.40,300.26L307.45,300.27L307.60,300.31L307.75,300.35L307.90,300.37L307.90,300.37L308.05,300.40L308.20,300.42L308.35,300.45L308.40,300.45L308.50,300.46L308.65,300.48L308.80,300.49L308.90,300.50L308.95,300.51L309.10,300.52L309.25,300.53L309.40,300.54L309.40,300.54L309.55,300.55L309.70,300.55L309.85,300.56L309.90,300.56L310.00,300.57L310.15,300.57L310.30,300.58L310.40,300.58L310.45,300.58L310.60,300.58L310.75,300.59L310.90,300.59L310.90,300.59L311.05,300.59L311.20,300.60L311.35,300.60L311.40,300.60L311.50,300.60L311.65,300.60L311.90,300.60L312.40,300.61L312.90,300.61L313.40,300.61L313.90,300.61L314.40,300.61L314.90,300.61L315.40,300.61L315.90,300.61L316.40,300.61L316.90,300.61L317.40,300.61L317.90,300.61L318.40,300.60L318.90,300.60L319.40,300.60L319.90,300.60L320.40,300.60L320.90,300.59L321.40,300.59L321.90,300.59L322.00,300.59" fill="none" stroke="#000" stroke-width="2.70" stroke-linejoin="round" stroke-linecap="butt"/>
<path d="M48.90,357.00L49.40,357.00L49.90,357.00L50.40,356.99L50.90,356.99L51.40,356.99L51.90,356.98L52.40,356.98L52.90,356.97L53.40,356.97L53.90,356.97L54.40,356.96L54.90,356.96L55.40,356.95L55.90,356.95L56.40,356.95L56.90,356.94L57.40,356.94L57.90,356.93L58.40,356.93L58.90,356.93L59.40,356.92L59.90,356.92L60.40,356.91L60.90,356.91L61.40,356.91L61.90,356.90L62.40,356.90L62.90,356.89L63.40,356.89L63.90,356.89L64.40,356.88L64.90,356.88L65.40,356.87L65.90,356.87L66.40,356.87L66.90,356.86L67.40,356.86L67.90,356.85L68.40,356.85L68.90,356.85L69.40,356.84L69.90,356.84L70.40,356.84L70.90,356.83L71.40,356.83L71.90,356.82L72.40,356.82L72.90,356.82L73.40,356.81L73.90,356.81L74.40,356.80L74.90,356.80L75.40,356.80L75.90,356.79L76.40,356.79L76.90,356.78L77.40,356.78L77.90,356.78L78.40,356.77L78.90,356.77L79.40,356.77L79.90,356.76L80.40,356.76L80.90,356.75L81.40,356.75L81.90,356.75L82.40,356.74L82.90,356.74L83.40,356.73L83.90,356.73L84.40,356.73L84.90,356.72L85.40,356.72L85.90,356.72L86.40,356.71L86.90,356.71L87.40,356.70L87.90,356.70L88.40,356.70L88.90,356.69L89.40,356.69L89.90,356.69L90.40,356.68L90.90,356.68L91.40,356.67L91.90,356.67L92.40,356.67L92.90,356.66L93.40,356.66L93.90,356.66L94.40,356.65L94.90,356.65L95.40,356.65L95.90,356.64L96.40,356.64L96.90,356.63L97.40,356.63L97.90,356.63L98.40,356.62L98.90,356.62L99.40,356.62L99.90,356.61L100.40,356.61L100.90,356.61L101.40,356.60L101.90,356.60L102.40,356.60L102.90,356.59L103.40,356.59L103.90,356.59L104.40,356.58L104.90,356.58L105.40,356.58L105.90,356.57L106.40,356.57L106.90,356.57L107.40,356.56L107.90,356.56L108.40,356.56L108.90,356.55L109.40,356.55L109.90,356.55L110.40,356.55L110.90,356.54L111.40,356.54L111.90,356.54L112.40,356.53L112.90,356.53L113.40,356.53L113.90,356.53L114.40,356.52L114.90,356.52L115.40,356.52L115.90,356.52L116.40,356.51L116.90,356.51L117.40,356.51L117.90,356.51L118.40,356.51L118.90,356.50L119.40,356.50L119.90,356.50L120.40,356.50L120.90,356.50L121.40,356.50L121.90,356.50L122.40,356.50L122.90,356.50L123.40,356.50L123.90,356.50L124.40,356.50L124.90,356.50L125.40,356.50L125.90,356.50L126.40,356.50L126.90,356.50L127.40,356.50L127.90,356.51L128.40,356.51L128.90,356.52L129.40,356.52L129.90,356.52L130.40,356.53L130.90,356.54L131.40,356.55L131.90,356.56L132.40,356.57L132.90,356.58L133.40,356.59L133.90,356.61L134.40,356.62L134.90,356.65L135.40,356.67L135.90,356.70L136.40,356.73L136.90,356.76L137.40,356.81L137.90,356.86L138.40,356.92L138.90,356.99L139.40,357.07L139.90,357.18L140.20,357.25L140.35,357.29L140.40,357.31L140.50,357.34L140.65,357.38L140.80,357.44L140.90,357.47L140.95,357.49L141.10,357.55L141.25,357.61L141.40,357.68L141.40,357.68L141.55,357.75L141.70,357.83L141.85,357.92L141.90,357.95L142.00,358.02L142.15,358.12L142.30,358.23L142.40,358.31L142.45,358.36L142.60,358.49L142.75,358.64L142.90,358.81L142.90,358.81L143.05,358.99L143.20,359.20L143.35,359.43L143.40,359.51L143.50,359.68L143.65,359.96L143.80,360.28L143.90,360.51L143.95,360.64L144.10,361.04L144.25,361.49L144.40,361.99L144.40,361.99L144.55,362.55L144.70,363.18L144.85,363.87L144.90,364.11L145.00,364.62L145.15,365.42L145.30,366.27L145.40,366.83L145.45,367.12L145.60,367.94L145.75,368.67L145.90,369.26L145.90,369.26L146.05,369.66L146.20,369.81L146.35,369.72L146.40,369.63L146.50,369.39L146.65,368.86L146.80,368.19L146.90,367.69L146.95,367.44L147.10,366.65L147.25,365.88L147.30,365.63L147.40,365.15L147.40,365.15L147.45,364.91L147.55,364.47L147.60,364.26L147.70,363.86L147.75,363.67L147.85,363.31L147.90,363.15L147.90,363.15L148.00,362.84L148.05,362.69L148.15,362.43L148.20,362.30L148.30,362.07L148.35,361.97L148.40,361.87L148.45,361.77L148.50,361.69L148.60,361.53L148.65,361.46L148.75,361.33L148.80,361.27L148.90,361.17L148.90,361.17L148.95,361.13L149.05,361.05L149.10,361.02L149.20,360.97L149.25,360.95L149.35,360.93L149.40,360.92L149.40,360.92L149.50,360.92L149.55,360.92L149.65,360.94L149.70,360.96L149.80,361.00L149.85,361.03L149.90,361.06L149.95,361.10L150.00,361.14L150.10,361.23L150.15,361.28L150.25,361.40L150.30,361.46L150.40,361.61L150.40,361.61L150.45,361.69L150.55,361.86L150.60,361.96L150.70,362.17L150.75,362.28L150.85,362.53L150.90,362.66L150.90,362.66L151.00,362.94L151.05,363.10L151.15,363.43L151.20,363.61L151.30,363.99L151.35,364.19L151.40,364.40L151.45,364.62L151.50,364.86L151.60,365.35L151.65,365.61L151.75,366.17L151.80,366.47L151.90,367.09L151.90,367.09L151.95,367.41L152.05,368.10L152.10,368.46L152.25,369.58L152.40,370.76L152.40,370.76L152.55,371.95L152.70,373.09L152.85,374.11L152.90,374.41L153.00,374.92L153.15,375.43L153.30,375.59L153.40,375.49L153.45,375.38L153.60,374.82L153.75,373.97L153.90,372.90L153.90,372.90L154.05,371.71L154.20,370.47L154.35,369.24L154.40,368.84L154.50,368.06L154.65,366.97L154.80,365.96L154.90,365.34L154.95,365.05L155.10,364.23L155.25,363.50L155.40,362.84L155.40,362.84L155.55,362.26L155.70,361.75L155.85,361.28L155.90,361.14L156.00,360.87L156.15,360.51L156.30,360.18L156.40,359.98L156.45,359.88L156.60,359.61L156.75,359.37L156.90,359.16L156.90,359.16L157.05,358.96L157.20,358.78L157.35,358.62L157.40,358.57L157.50,358.47L157.65,358.33L157.80,358.21L157.90,358.13L157.95,358.09L158.10,357.99L158.25,357.89L158.40,357.80L158.40,357.80L158.55,357.71L158.70,357.64L158.85,357.56L158.90,357.54L159.00,357.49L159.15,357.43L159.40,357.33L159.90,357.17L160.40,357.03L160.90,356.92L161.40,356.83L161.90,356.75L162.40,356.68L162.90,356.62L163.40,356.56L163.90,356.52L164.40,356.48L164.90,356.44L165.40,356.41L165.90,356.37L166.40,356.35L166.90,356.32L167.40,356.30L167.90,356.28L168.40,356.26L168.90,356.24L169.40,356.22L169.90,356.21L170.40,356.19L170.90,356.18L171.40,356.16L171.90,356.15L172.40,356.14L172.90,356.12L173.40,356.11L173.90,356.10L174.40,356.09L174.90,356.08L175.40,356.07L175.90,356.06L176.40,356.05L176.90,356.04L177.40,356.03L177.90,356.03L178.40,356.02L178.90,356.01L179.40,356.00L179.90,355.99L180.40,355.98L180.90,355.98L181.40,355.97L181.90,355.96L182.40,355.95L182.90,355.95L183.40,355.94L183.90,355.93L184.40,355.92L184.90,355.92L185.40,355.91L185.90,355.90L186.40,355.89L186.90,355.89L187.40,355.88L187.90,355.87L188.40,355.87L188.90,355.86L189.40,355.85L189.90,355.84L190.40,355.84L190.90,355.83L191.40,355.82L191.90,355.81L192.40,355.80L192.90,355.80L193.40,355.79L193.90,355.78L194.40,355.77L194.90,355.76L195.40,355.75L195.90,355.74L196.40,355.73L196.90,355.72L197.40,355.71L197.90,355.70L198.40,355.69L198.90,355.68L199.40,355.67L199.90,355.65L200.40,355.64L200.90,355.63L201.40,355.61L201.90,355.59L202.40,355.58L202.90,355.56L203.40,355.54L203.90,355.52L204.40,355.49L204.90,355.47L205.40,355.44L205.90,355.41L206.40,355.37L206.90,355.33L207.40,355.29L207.90,355.24L208.40,355.18L208.90,355.12L209.40,355.04L209.90,354.95L210.40,354.84L210.90,354.70L211.40,354.53L211.50,354.50L211.65,354.44L211.80,354.37L211.90,354.32L211.95,354.30L212.10,354.22L212.25,354.14L212.40,354.05L212.40,354.05L212.55,353.96L212.70,353.85L212.85,353.74L212.90,353.70L213.00,353.62L213.15,353.48L213.30,353.33L213.40,353.22L213.45,353.17L213.60,352.98L213.75,352.78L213.90,352.56L213.90,352.56L214.05,352.31L214.20,352.03L214.35,351.72L214.40,351.61L214.50,351.37L214.65,350.97L214.80,350.53L214.90,350.20L214.95,350.02L215.10,349.45L215.25,348.81L215.40,348.07L215.40,348.07L215.55,347.25L215.70,346.32L215.85,345.29L215.90,344.93L216.00,344.16L216.15,342.95L216.30,341.69L216.40,340.85L216.45,340.44L216.60,339.26L216.75,338.26L216.90,337.54L216.90,337.54L217.05,337.19L217.20,337.23L217.35,337.67L217.40,337.90L217.50,338.45L217.65,339.47L217.80,340.63L217.90,341.44L217.95,341.85L218.10,343.05L218.20,343.81L218.25,344.18L218.35,344.89L218.40,345.22L218.40,345.22L218.50,345.86L218.55,346.16L218.65,346.73L218.70,346.99L218.80,347.49L218.85,347.73L218.90,347.95L218.95,348.16L219.00,348.36L219.10,348.74L219.15,348.91L219.25,349.24L219.30,349.39L219.40,349.66L219.40,349.66L219.45,349.79L219.55,350.03L219.60,350.13L219.70,350.33L219.75,350.42L219.85,350.58L219.90,350.66L219.90,350.66L220.00,350.79L220.05,350.85L220.15,350.95L220.20,351.00L220.30,351.07L220.35,351.11L220.40,351.13L220.45,351.16L220.50,351.18L220.60,351.20L220.65,351.21L220.75,351.22L220.80,351.21L220.90,351.19L220.90,351.19L220.95,351.17L221.05,351.13L221.10,351.10L221.20,351.03L221.25,350.98L221.35,350.88L221.40,350.83L221.40,350.83L221.50,350.70L221.55,350.63L221.65,350.46L221.70,350.37L221.80,350.18L221.85,350.07L221.90,349.95L221.95,349.83L222.00,349.70L222.10,349.42L222.15,349.27L222.25,348.94L222.30,348.77L222.40,348.39L222.40,348.39L222.45,348.19L222.55,347.77L222.60,347.54L222.70,347.07L222.85,346.32L222.90,346.06L223.00,345.53L223.15,344.74L223.30,344.00L223.40,343.57L223.45,343.38L223.60,342.95L223.75,342.76L223.90,342.83L223.90,342.83L224.05,343.17L224.20,343.74L224.35,344.47L224.40,344.74L224.50,345.30L224.65,346.16L224.80,347.01L224.90,347.55L224.95,347.81L225.10,348.56L225.25,349.24L225.40,349.85L225.40,349.85L225.55,350.39L225.70,350.87L225.85,351.29L225.90,351.42L226.00,351.66L226.15,351.99L226.30,352.29L226.40,352.46L226.45,352.55L226.60,352.78L226.75,352.98L226.90,353.17L226.90,353.17L227.05,353.33L227.20,353.48L227.35,353.62L227.40,353.66L227.50,353.74L227.65,353.85L227.80,353.95L227.90,354.01L227.95,354.04L228.10,354.12L228.25,354.20L228.40,354.27L228.40,354.27L228.55,354.33L228.70,354.39L228.85,354.45L228.90,354.46L229.00,354.50L229.15,354.54L229.30,354.59L229.40,354.62L229.90,354.74L230.40,354.83L230.90,354.91L231.40,354.97L231.90,355.03L232.40,355.07L232.90,355.11L233.40,355.14L233.90,355.17L234.40,355.19L234.90,355.21L235.40,355.23L235.90,355.24L236.40,355.26L236.90,355.27L237.40,355.28L237.90,355.29L238.40,355.30L238.90,355.30L239.40,355.31L239.90,355.31L240.40,355.32L240.90,355.32L241.40,355.32L241.90,355.32L242.40,355.33L242.90,355.33L243.40,355.33L243.90,355.33L244.40,355.33L244.90,355.33L245.40,355.33L245.90,355.33L246.40,355.33L246.90,355.33L247.40,355.33L247.90,355.33L248.40,355.33L248.90,355.32L249.40,355.32L249.90,355.32L250.40,355.32L250.90,355.32L251.40,355.31L251.90,355.31L252.40,355.31L252.90,355.31L253.40,355.31L253.90,355.30L254.40,355.30L254.90,355.30L255.40,355.30L255.90,355.29L256.40,355.29L256.90,355.29L257.40,355.28L257.90,355.28L258.40,355.28L258.90,355.28L259.40,355.27L259.90,355.27L260.40,355.27L260.90,355.26L261.40,355.26L261.90,355.26L262.40,355.25L262.90,355.25L263.40,355.25L263.90,355.24L264.40,355.24L264.90,355.24L265.40,355.23L265.90,355.23L266.40,355.23L266.90,355.22L267.40,355.22L267.90,355.22L268.40,355.21L268.90,355.21L269.40,355.20L269.90,355.20L270.40,355.20L270.90,355.19L271.40,355.19L271.90,355.19L272.40,355.18L272.90,355.18L273.40,355.18L273.90,355.17L274.40,355.17L274.90,355.16L275.40,355.16L275.90,355.16L276.40,355.15L276.90,355.15L277.40,355.15L277.90,355.14L278.40,355.14L278.90,355.13L279.40,355.13L279.90,355.13L280.40,355.12L280.90,355.12L281.40,355.12L281.90,355.11L282.40,355.11L282.90,355.10L283.40,355.10L283.90,355.10L284.40,355.09L284.90,355.09L285.40,355.08L285.90,355.08L286.40,355.08L286.90,355.07L287.40,355.07L287.90,355.07L288.40,355.06L288.90,355.06L289.40,355.05L289.90,355.05L290.40,355.05L290.90,355.04L291.40,355.04L291.90,355.03L292.40,355.03L292.90,355.03L293.40,355.02L293.90,355.02L294.40,355.02L294.90,355.01L295.40,355.01L295.90,355.00L296.40,355.00L296.90,355.00L297.40,354.99L297.90,354.99L298.40,354.98L298.90,354.98L299.40,354.98L299.90,354.97L300.40,354.97L300.90,354.96L301.40,354.96L301.90,354.96L302.40,354.95L302.90,354.95L303.40,354.94L303.90,354.94L304.40,354.94L304.90,354.93L305.40,354.93L305.90,354.92L306.40,354.92L306.90,354.92L307.40,354.91L307.90,354.91L308.40,354.90L308.90,354.90L309.40,354.90L309.90,354.89L310.40,354.89L310.90,354.89L311.40,354.88L311.90,354.88L312.40,354.87L312.90,354.87L313.40,354.87L313.90,354.86L314.40,354.86L314.90,354.85L315.40,354.85L315.90,354.85L316.40,354.84L316.90,354.84L317.40,354.83L317.90,354.83L318.40,354.83L318.90,354.82L319.40,354.82L319.90,354.81L320.40,354.81L320.90,354.81L321.40,354.80L321.90,354.80L322.00,354.80" fill="none" stroke="#0f0" stroke-width="2.70" stroke-linejoin="round" stroke-linecap="butt"/>
<path d="M48.90,329.31L49.40,329.30L49.90,329.30L50.40,329.30L50.90,329.30L51.40,329.29L51.90,329.29L52.40,329.29L52.90,329.29L53.40,329.28L53.90,329.28L54.40,329.28L54.90,329.28L55.40,329.27L55.90,329.27L56.40,329.27L56.90,329.27L57.40,329.26L57.90,329.26L58.40,329.26L58.90,329.26L59.40,329.25L59.90,329.25L60.40,329.25L60.90,329.25L61.40,329.24L61.90,329.24L62.40,329.24L62.90,329.24L63.40,329.23L63.90,329.23L64.40,329.23L64.90,329.23L65.40,329.22L65.90,329.22L66.40,329.22L66.90,329.22L67.40,329.21L67.90,329.21L68.40,329.21L68.90,329.21L69.40,329.20L69.90,329.20L70.40,329.20L70.90,329.20L71.40,329.19L71.90,329.19L72.40,329.19L72.90,329.19L73.40,329.19L73.90,329.18L74.40,329.18L74.90,329.18L75.40,329.18L75.90,329.17L76.40,329.17L76.90,329.17L77.40,329.17L77.90,329.16L78.40,329.16L78.90,329.16L79.40,329.16L79.90,329.15L80.40,329.15L80.90,329.15L81.40,329.15L81.90,329.15L82.40,329.14L82.90,329.14L83.40,329.14L83.90,329.14L84.40,329.13L84.90,329.13L85.40,329.13L85.90,329.13L86.40,329.12L86.90,329.12L87.40,329.12L87.90,329.12L88.40,329.12L88.90,329.11L89.40,329.11L89.90,329.11L90.40,329.11L90.90,329.10L91.40,329.10L91.90,329.10L92.40,329.10L92.90,329.10L93.40,329.09L93.90,329.09L94.40,329.09L94.90,329.09L95.40,329.08L95.90,329.08L96.40,329.08L96.90,329.08L97.40,329.08L97.90,329.07L98.40,329.07L98.90,329.07L99.40,329.07L99.90,329.07L100.40,329.06L100.90,329.06L101.40,329.06L101.90,329.06L102.40,329.06L102.90,329.06L103.40,329.05L103.90,329.05L104.40,329.05L104.90,329.05L105.40,329.05L105.90,329.05L106.40,329.04L106.90,329.04L107.40,329.04L107.90,329.04L108.40,329.04L108.90,329.04L109.40,329.03L109.90,329.03L110.40,329.03L110.90,329.03L111.40,329.03L111.90,329.03L112.40,329.03L112.90,329.03L113.40,329.02L113.90,329.02L114.40,329.02L114.90,329.02L115.40,329.02L115.90,329.02L116.40,329.02L116.90,329.02L117.40,329.02L117.90,329.02L118.40,329.02L118.90,329.02L119.40,329.02L119.90,329.02L120.40,329.02L120.90,329.02L121.40,329.02L121.90,329.02L122.40,329.02L122.90,329.03L123.40,329.03L123.90,329.03L124.40,329.03L124.90,329.03L125.40,329.04L125.90,329.04L126.40,329.04L126.90,329.05L127.40,329.05L127.90,329.06L128.40,329.06L128.90,329.07L129.40,329.07L129.90,329.08L130.40,329.09L130.90,329.10L131.40,329.11L131.90,329.12L132.40,329.13L132.90,329.14L133.40,329.15L133.90,329.17L134.40,329.19L134.90,329.21L135.40,329.23L135.90,329.25L136.40,329.28L136.90,329.31L137.40,329.35L137.90,329.38L138.40,329.43L138.90,329.48L139.40,329.54L139.90,329.61L140.40,329.68L140.90,329.77L141.40,329.88L141.90,330.01L142.40,330.16L142.90,330.34L143.40,330.56L143.70,330.72L143.85,330.81L143.90,330.84L144.00,330.90L144.15,331.00L144.30,331.10L144.40,331.18L144.45,331.22L144.60,331.34L144.75,331.47L144.90,331.61L144.90,331.61L145.05,331.77L145.20,331.93L145.35,332.11L145.40,332.18L145.50,332.31L145.65,332.52L145.80,332.76L145.90,332.92L145.95,333.01L146.10,333.29L146.25,333.59L146.40,333.92L146.40,333.92L146.55,334.29L146.70,334.70L146.85,335.14L146.90,335.30L147.00,335.64L147.15,336.19L147.30,336.81L147.40,337.25L147.45,337.49L147.60,338.25L147.75,339.11L147.90,340.06L147.90,340.06L148.05,341.12L148.20,342.30L148.35,343.62L148.40,344.09L148.50,345.08L148.65,346.67L148.80,348.41L148.90,349.64L148.95,350.27L149.10,352.22L149.25,354.20L149.40,356.13L149.40,356.13L149.55,357.92L149.70,359.45L149.85,360.59L149.90,360.87L150.00,361.24L150.15,361.33L150.30,360.86L150.40,360.26L150.45,359.88L150.60,358.46L150.75,356.75L150.90,354.84L150.90,354.84L151.05,352.86L151.20,350.90L151.35,349.00L151.40,348.40L151.50,347.22L151.65,345.58L151.80,344.07L151.90,343.15L151.95,342.71L152.10,341.48L152.25,340.37L152.40,339.39L152.40,339.39L152.55,338.50L152.70,337.71L152.85,337.00L152.90,336.78L153.00,336.36L153.15,335.79L153.30,335.27L153.40,334.95L153.45,334.80L153.60,334.38L153.75,334.00L153.90,333.65L153.90,333.65L154.05,333.34L154.20,333.05L154.35,332.79L154.40,332.71L154.50,332.55L154.65,332.33L154.80,332.13L154.90,332.00L154.95,331.94L155.10,331.77L155.25,331.61L155.40,331.46L155.40,331.46L155.55,331.32L155.70,331.20L155.85,331.08L155.90,331.04L156.00,330.97L156.15,330.86L156.30,330.77L156.40,330.71L156.45,330.68L156.90,330.44L157.40,330.22L157.90,330.04L158.40,329.89L158.90,329.76L159.40,329.65L159.90,329.56L160.40,329.48L160.90,329.41L161.40,329.34L161.90,329.29L162.40,329.24L162.90,329.20L163.40,329.16L163.90,329.12L164.40,329.09L164.90,329.06L165.40,329.03L165.90,329.01L166.40,328.98L166.90,328.96L167.40,328.94L167.90,328.93L168.40,328.91L168.90,328.89L169.40,328.88L169.90,328.86L170.40,328.85L170.90,328.84L171.40,328.83L171.90,328.81L172.40,328.80L172.90,328.79L173.40,328.78L173.90,328.77L174.40,328.76L174.90,328.76L175.40,328.75L175.90,328.74L176.40,328.73L176.90,328.72L177.40,328.71L177.90,328.71L178.40,328.70L178.90,328.69L179.40,328.69L179.90,328.68L180.40,328.67L180.90,328.67L181.40,328.66L181.90,328.65L182.40,328.65L182.90,328.64L183.40,328.63L183.90,328.63L184.40,328.62L184.90,328.62L185.40,328.61L185.90,328.60L186.40,328.60L186.90,328.59L187.40,328.59L187.90,328.58L188.40,328.57L188.90,328.57L189.40,328.56L189.90,328.56L190.40,328.55L190.90,328.54L191.40,328.54L191.90,328.53L192.40,328.52L192.90,328.52L193.40,328.51L193.90,328.50L194.40,328.49L194.90,328.49L195.40,328.48L195.90,328.47L196.40,328.46L196.90,328.45L197.40,328.45L197.90,328.44L198.40,328.43L198.90,328.42L199.40,328.41L199.90,328.40L200.40,328.39L200.90,328.37L201.40,328.36L201.90,328.35L202.40,328.33L202.90,328.32L203.40,328.30L203.90,328.29L204.40,328.27L204.90,328.25L205.40,328.23L205.90,328.21L206.40,328.18L206.90,328.15L207.40,328.12L207.90,328.09L208.40,328.05L208.90,328.01L209.40,327.97L209.90,327.91L210.40,327.86L210.90,327.79L211.40,327.71L211.90,327.62L212.40,327.52L212.90,327.39L213.40,327.25L213.90,327.07L214.40,326.85L214.90,326.59L215.05,326.49L215.20,326.39L215.35,326.29L215.40,326.25L215.50,326.17L215.65,326.05L215.80,325.92L215.90,325.82L215.95,325.77L216.10,325.62L216.25,325.45L216.40,325.26L216.40,325.26L216.55,325.06L216.70,324.84L216.85,324.60L216.90,324.51L217.00,324.33L217.15,324.04L217.30,323.72L217.40,323.49L217.45,323.37L217.60,322.97L217.75,322.54L217.90,322.05L217.90,322.05L218.05,321.51L218.20,320.90L218.35,320.22L218.40,319.98L218.50,319.46L218.65,318.60L218.80,317.64L218.90,316.93L218.95,316.55L219.10,315.33L219.25,313.96L219.40,312.44L219.40,312.44L219.55,310.76L219.70,308.93L219.85,306.96L219.90,306.29L220.00,304.91L220.15,302.84L220.30,300.85L220.40,299.64L220.45,299.08L220.60,297.67L220.75,296.75L220.90,296.43L220.90,296.43L221.05,296.75L221.20,297.66L221.35,299.07L221.40,299.63L221.50,300.85L221.65,302.83L221.80,304.90L221.90,306.28L221.95,306.95L222.10,308.92L222.25,310.75L222.40,312.43L222.40,312.43L222.55,313.95L222.70,315.31L222.85,316.53L222.90,316.90L223.00,317.61L223.15,318.58L223.30,319.43L223.40,319.95L223.45,320.19L223.60,320.87L223.75,321.48L223.90,322.02L223.90,322.02L224.05,322.50L224.20,322.94L224.35,323.33L224.40,323.45L224.50,323.68L224.65,324.00L224.80,324.29L224.90,324.47L224.95,324.55L225.10,324.79L225.25,325.01L225.40,325.21L225.40,325.21L225.55,325.39L225.70,325.56L225.85,325.72L225.90,325.76L226.00,325.86L226.15,325.99L226.30,326.11L226.40,326.19L226.45,326.23L226.60,326.33L226.75,326.43L226.90,326.52L227.40,326.78L227.90,326.99L228.40,327.16L228.90,327.30L229.40,327.42L229.90,327.52L230.40,327.60L230.90,327.68L231.40,327.74L231.90,327.79L232.40,327.84L232.90,327.88L233.40,327.91L233.90,327.94L234.40,327.97L234.90,327.99L235.40,328.02L235.90,328.04L236.40,328.05L236.90,328.07L237.40,328.08L237.90,328.09L238.40,328.11L238.90,328.12L239.40,328.12L239.90,328.13L240.40,328.14L240.90,328.15L241.40,328.15L241.90,328.16L242.40,328.16L242.90,328.17L243.40,328.17L243.90,328.17L244.40,328.18L244.90,328.18L245.40,328.18L245.90,328.18L246.40,328.19L246.90,328.19L247.40,328.19L247.90,328.19L248.40,328.19L248.90,328.19L249.40,328.19L249.90,328.19L250.40,328.19L250.90,328.19L251.40,328.19L251.90,328.19L252.40,328.19L252.90,328.19L253.40,328.19L253.90,328.19L254.40,328.19L254.90,328.19L255.40,328.19L255.90,328.19L256.40,328.19L256.90,328.19L257.40,328.18L257.90,328.18L258.40,328.18L258.90,328.18L259.40,328.18L259.90,328.18L260.40,328.18L260.90,328.18L261.40,328.17L261.90,328.17L262.40,328.17L262.90,328.17L263.40,328.17L263.90,328.17L264.40,328.16L264.90,328.16L265.40,328.16L265.90,328.16L266.40,328.16L266.90,328.15L267.40,328.15L267.90,328.15L268.40,328.15L268.90,328.15L269.40,328.14L269.90,328.14L270.40,328.14L270.90,328.14L271.40,328.14L271.90,328.13L272.40,328.13L272.90,328.13L273.40,328.13L273.90,328.13L274.40,328.12L274.90,328.12L275.40,328.12L275.90,328.12L276.40,328.12L276.90,328.11L277.40,328.11L277.90,328.11L278.40,328.11L278.90,328.10L279.40,328.10L279.90,328.10L280.40,328.10L280.90,328.10L281.40,328.09L281.90,328.09L282.40,328.09L282.90,328.09L283.40,328.08L283.90,328.08L284.40,328.08L284.90,328.08L285.40,328.07L285.90,328.07L286.40,328.07L286.90,328.07L287.40,328.07L287.90,328.06L288.40,328.06L288.90,328.06L289.40,328.06L289.90,328.05L290.40,328.05L290.90,328.05L291.40,328.05L291.90,328.04L292.40,328.04L292.90,328.04L293.40,328.04L293.90,328.03L294.40,328.03L294.90,328.03L295.40,328.03L295.90,328.02L296.40,328.02L296.90,328.02L297.40,328.02L297.90,328.02L298.40,328.01L298.90,328.01L299.40,328.01L299.90,328.01L300.40,328.00L300.90,328.00L301.40,328.00L301.90,328.00L302.40,327.99L302.90,327.99L303.40,327.99L303.90,327.99L304.40,327.98L304.90,327.98L305.40,327.98L305.90,327.98L306.40,327.97L306.90,327.97L307.40,327.97L307.90,327.97L308.40,327.96L308.90,327.96L309.40,327.96L309.90,327.96L310.40,327.95L310.90,327.95L311.40,327.95L311.90,327.95L312.40,327.94L312.90,327.94L313.40,327.94L313.90,327.94L314.40,327.93L314.90,327.93L315.40,327.93L315.90,327.93L316.40,327.92L316.90,327.92L317.40,327.92L317.90,327.92L318.40,327.91L318.90,327.91L319.40,327.91L319.90,327.91L320.40,327.90L320.90,327.90L321.40,327.90L321.90,327.90L322.00,327.90" fill="none" stroke="#f00" stroke-width="2.70" stroke-linejoin="round" stroke-linecap="butt"/>
<path d="M48.90,383.90L49.40,383.90L49.90,383.90L50.40,383.90L50.90,383.89L51.40,383.89L51.90,383.89L52.40,383.88L52.90,383.88L53.40,383.88L53.90,383.88L54.40,383.87L54.90,383.87L55.40,383.87L55.90,383.87L56.40,383.86L56.90,383.86L57.40,383.86L57.90,383.86L58.40,383.85L58.90,383.85L59.40,383.85L59.90,383.84L60.40,383.84L60.90,383.84L61.40,383.84L61.90,383.83L62.40,383.83L62.90,383.83L63.40,383.83L63.90,383.82L64.40,383.82L64.90,383.82L65.40,383.82L65.90,383.81L66.40,383.81L66.90,383.81L67.40,383.80L67.90,383.80L68.40,383.80L68.90,383.80L69.40,383.79L69.90,383.79L70.40,383.79L70.90,383.79L71.40,383.78L71.90,383.78L72.40,383.78L72.90,383.78L73.40,383.77L73.90,383.77L74.40,383.77L74.90,383.76L75.40,383.76L75.90,383.76L76.40,383.76L76.90,383.75L77.40,383.75L77.90,383.75L78.40,383.75L78.90,383.74L79.40,383.74L79.90,383.74L80.40,383.74L80.90,383.73L81.40,383.73L81.90,383.73L82.40,383.73L82.90,383.72L83.40,383.72L83.90,383.72L84.40,383.72L84.90,383.71L85.40,383.71L85.90,383.71L86.40,383.71L86.90,383.70L87.40,383.70L87.90,383.70L88.40,383.69L88.90,383.69L89.40,383.69L89.90,383.69L90.40,383.68L90.90,383.68L91.40,383.68L91.90,383.68L92.40,383.67L92.90,383.67L93.40,383.67L93.90,383.67L94.40,383.66L94.90,383.66L95.40,383.66L95.90,383.66L96.40,383.66L96.90,383.65L97.40,383.65L97.90,383.65L98.40,383.65L98.90,383.64L99.40,383.64L99.90,383.64L100.40,383.64L100.90,383.63L101.40,383.63L101.90,383.63L102.40,383.63L102.90,383.62L103.40,383.62L103.90,383.62L104.40,383.62L104.90,383.62L105.40,383.61L105.90,383.61L106.40,383.61L106.90,383.61L107.40,383.61L107.90,383.60L108.40,383.60L108.90,383.60L109.40,383.60L109.90,383.60L110.40,383.59L110.90,383.59L111.40,383.59L111.90,383.59L112.40,383.59L112.90,383.59L113.40,383.58L113.90,383.58L114.40,383.58L114.90,383.58L115.40,383.58L115.90,383.58L116.40,383.58L116.90,383.58L117.40,383.57L117.90,383.57L118.40,383.57L118.90,383.57L119.40,383.57L119.90,383.57L120.40,383.57L120.90,383.57L121.40,383.57L121.90,383.57L122.40,383.58L122.90,383.58L123.40,383.58L123.90,383.58L124.40,383.58L124.90,383.59L125.40,383.59L125.90,383.60L126.40,383.60L126.90,383.61L127.40,383.62L127.90,383.63L128.40,383.64L128.90,383.65L129.40,383.67L129.90,383.69L130.40,383.72L130.90,383.75L131.00,383.76L131.15,383.77L131.30,383.78L131.40,383.79L131.45,383.79L131.60,383.81L131.75,383.82L131.90,383.84L131.90,383.84L132.05,383.86L132.20,383.88L132.35,383.90L132.40,383.90L132.50,383.92L132.65,383.94L132.80,383.97L132.90,383.99L132.95,384.00L133.10,384.03L133.25,384.06L133.40,384.10L133.40,384.10L133.55,384.14L133.70,384.19L133.85,384.24L133.90,384.25L134.00,384.29L134.15,384.35L134.30,384.42L134.40,384.47L134.45,384.49L134.60,384.58L134.75,384.67L134.90,384.77L134.90,384.77L135.05,384.89L135.20,385.01L135.35,385.16L135.40,385.21L135.50,385.32L135.65,385.49L135.80,385.69L135.90,385.83L135.95,385.91L136.10,386.14L136.25,386.39L136.40,386.66L136.40,386.66L136.55,386.92L136.70,387.18L136.85,387.43L136.90,387.50L137.00,387.63L137.15,387.79L137.30,387.87L137.40,387.89L137.45,387.89L137.60,387.82L137.75,387.69L137.90,387.50L137.90,387.50L138.05,387.27L138.20,387.01L138.35,386.75L138.40,386.66L138.50,386.48L138.65,386.22L138.80,385.98L138.90,385.83L138.95,385.76L139.10,385.56L139.25,385.38L139.40,385.21L139.40,385.21L139.55,385.06L139.70,384.93L139.85,384.81L139.90,384.77L140.00,384.70L140.15,384.61L140.30,384.52L140.40,384.47L140.45,384.45L140.60,384.38L140.75,384.31L140.90,384.26L140.90,384.26L141.05,384.21L141.20,384.16L141.35,384.12L141.40,384.11L141.50,384.08L141.65,384.05L141.80,384.01L141.90,384.00L141.95,383.99L142.10,383.96L142.25,383.93L142.40,383.91L142.40,383.91L142.55,383.89L142.70,383.87L142.85,383.86L142.90,383.85L143.00,383.84L143.15,383.82L143.30,383.81L143.40,383.80L143.45,383.80L143.60,383.79L143.75,383.77L143.90,383.76L144.40,383.74L144.90,383.71L145.40,383.70L145.90,383.68L146.40,383.67L146.90,383.67L147.40,383.66L147.90,383.66L148.40,383.66L148.90,383.66L149.40,383.67L149.90,383.67L150.40,383.68L150.90,383.69L151.40,383.71L151.90,383.72L152.40,383.74L152.90,383.76L153.40,383.79L153.90,383.81L154.40,383.85L154.90,383.88L155.40,383.93L155.90,383.98L156.40,384.03L156.90,384.10L157.40,384.18L157.90,384.27L158.40,384.37L158.90,384.50L159.40,384.65L159.90,384.83L160.40,385.05L160.80,385.26L160.90,385.32L160.95,385.35L161.10,385.45L161.25,385.55L161.40,385.66L161.55,385.78L161.70,385.91L161.85,386.05L161.90,386.09L162.00,386.19L162.15,386.35L162.30,386.53L162.40,386.65L162.45,386.72L162.60,386.92L162.75,387.14L162.90,387.38L162.90,387.38L163.05,387.65L163.20,387.94L163.35,388.25L163.40,388.37L163.50,388.60L163.65,388.99L163.80,389.41L163.90,389.72L163.95,389.88L164.10,390.40L164.25,390.98L164.40,391.62L164.40,391.62L164.55,392.33L164.70,393.13L164.85,394.02L164.90,394.34L165.00,395.01L165.15,396.12L165.30,397.36L165.40,398.26L165.45,398.74L165.60,400.26L165.75,401.93L165.90,403.75L165.90,403.75L166.05,405.69L166.20,407.73L166.35,409.80L166.40,410.48L166.50,411.82L166.65,413.70L166.80,415.29L166.90,416.14L166.95,416.49L167.10,417.16L167.25,417.26L167.40,416.77L167.40,416.77L167.55,415.73L167.70,414.26L167.85,412.46L167.90,411.81L168.00,410.47L168.15,408.40L168.30,406.34L168.40,405.01L168.45,404.36L168.60,402.49L168.75,400.77L168.90,399.20L168.90,399.20L169.05,397.77L169.20,396.48L169.35,395.33L169.40,394.97L169.50,394.29L169.65,393.37L169.80,392.53L169.90,392.03L169.95,391.79L170.10,391.12L170.25,390.52L170.40,389.98L170.40,389.98L170.55,389.49L170.70,389.05L170.85,388.65L170.90,388.53L171.00,388.29L171.15,387.96L171.30,387.66L171.40,387.47L171.45,387.38L171.60,387.13L171.75,386.90L171.90,386.69L171.90,386.69L172.05,386.49L172.20,386.31L172.35,386.14L172.40,386.09L172.50,385.99L172.65,385.84L172.80,385.71L172.90,385.62L172.95,385.58L173.10,385.47L173.25,385.36L173.40,385.26L173.40,385.26L173.55,385.16L173.90,384.96L174.40,384.72L174.90,384.52L175.40,384.35L175.90,384.21L176.40,384.09L176.90,383.98L177.40,383.89L177.90,383.81L178.40,383.74L178.90,383.67L179.40,383.61L179.90,383.56L180.40,383.51L180.90,383.47L181.40,383.43L181.90,383.39L182.40,383.35L182.90,383.31L183.40,383.28L183.90,383.25L184.40,383.21L184.90,383.18L185.40,383.15L185.90,383.12L186.40,383.09L186.90,383.05L187.40,383.02L187.90,382.99L188.40,382.95L188.90,382.91L189.40,382.87L189.90,382.83L190.40,382.78L190.90,382.73L191.40,382.68L191.90,382.62L192.40,382.55L192.90,382.48L193.40,382.39L193.90,382.30L194.40,382.19L194.90,382.06L195.40,381.91L195.90,381.74L196.40,381.52L196.90,381.27L197.00,381.21L197.15,381.12L197.30,381.02L197.40,380.95L197.45,380.92L197.60,380.80L197.75,380.68L197.90,380.56L197.90,380.56L198.05,380.42L198.20,380.27L198.35,380.11L198.40,380.05L198.50,379.93L198.65,379.75L198.80,379.54L198.90,379.40L198.95,379.32L199.10,379.08L199.25,378.82L199.40,378.53L199.40,378.53L199.55,378.22L199.70,377.87L199.85,377.49L199.90,377.36L200.00,377.07L200.15,376.61L200.30,376.09L200.40,375.72L200.45,375.53L200.60,374.89L200.75,374.19L200.90,373.40L200.90,373.40L201.05,372.52L201.20,371.54L201.35,370.45L201.40,370.06L201.50,369.23L201.65,367.87L201.80,366.38L201.90,365.30L201.95,364.73L202.10,362.94L202.25,361.03L202.40,359.03L202.40,359.03L202.55,356.99L202.70,355.00L202.85,353.16L202.90,352.59L203.00,351.58L203.15,350.41L203.30,349.74L203.40,349.61L203.45,349.64L203.60,350.12L203.75,351.14L203.90,352.58L203.90,352.58L204.05,354.35L204.20,356.30L204.35,358.33L204.40,359.01L204.50,360.35L204.65,362.29L204.80,364.12L204.90,365.27L204.95,365.81L205.10,367.36L205.25,368.76L205.40,370.02L205.40,370.02L205.55,371.15L205.70,372.16L205.85,373.07L205.90,373.35L206.00,373.88L206.15,374.61L206.30,375.26L206.40,375.66L206.45,375.85L206.60,376.38L206.75,376.85L206.90,377.28L206.90,377.28L207.05,377.67L207.20,378.03L207.35,378.35L207.40,378.45L207.50,378.64L207.65,378.91L207.80,379.15L207.90,379.31L207.95,379.38L208.10,379.59L208.25,379.77L208.40,379.95L208.40,379.95L208.55,380.11L208.70,380.26L208.85,380.40L208.90,380.44L209.00,380.53L209.15,380.65L209.30,380.76L209.40,380.83L209.45,380.86L209.60,380.96L209.75,381.05L209.90,381.13L210.40,381.38L210.90,381.58L211.40,381.74L211.90,381.88L212.40,382.00L212.90,382.09L213.40,382.18L213.90,382.25L214.40,382.31L214.90,382.36L215.40,382.41L215.90,382.45L216.40,382.48L216.90,382.51L217.40,382.54L217.90,382.56L218.40,382.58L218.90,382.60L219.40,382.61L219.90,382.63L220.40,382.64L220.90,382.64L221.40,382.65L221.90,382.65L222.40,382.66L222.90,382.66L223.40,382.65L223.90,382.65L224.40,382.64L224.90,382.63L225.40,382.62L225.90,382.60L226.40,382.58L226.60,382.57L226.75,382.56L226.90,382.55L227.05,382.54L227.20,382.53L227.35,382.51L227.40,382.51L227.50,382.50L227.65,382.49L227.80,382.47L227.90,382.46L227.95,382.45L228.10,382.43L228.25,382.41L228.40,382.39L228.40,382.39L228.55,382.37L228.70,382.34L228.85,382.31L228.90,382.30L229.00,382.28L229.15,382.25L229.30,382.21L229.40,382.18L229.45,382.16L229.60,382.12L229.75,382.07L229.90,382.01L229.90,382.01L230.05,381.94L230.20,381.87L230.35,381.79L230.40,381.77L230.50,381.71L230.65,381.61L230.80,381.50L230.90,381.41L230.95,381.37L231.10,381.23L231.25,381.08L231.40,380.91L231.40,380.91L231.55,380.72L231.70,380.52L231.85,380.31L231.90,380.23L232.00,380.08L232.15,379.85L232.30,379.62L232.40,379.48L232.45,379.41L232.60,379.24L232.75,379.10L232.90,379.03L232.90,379.03L233.05,379.02L233.20,379.07L233.35,379.19L233.40,379.24L233.50,379.35L233.65,379.55L233.80,379.77L233.90,379.93L233.95,380.00L234.10,380.23L234.25,380.45L234.40,380.66L234.40,380.66L234.55,380.85L234.70,381.03L234.85,381.19L234.90,381.24L235.00,381.33L235.15,381.46L235.30,381.57L235.40,381.64L235.45,381.68L235.60,381.77L235.75,381.85L235.90,381.92L235.90,381.92L236.05,381.99L236.20,382.05L236.35,382.11L236.40,382.12L236.50,382.15L236.65,382.20L236.80,382.24L236.90,382.26L236.95,382.27L237.10,382.31L237.25,382.34L237.40,382.37L237.40,382.37L237.55,382.39L237.70,382.41L237.85,382.44L237.90,382.44L238.00,382.46L238.15,382.47L238.30,382.49L238.40,382.50L238.45,382.51L238.60,382.52L238.75,382.53L238.90,382.55L238.90,382.55L239.05,382.56L239.20,382.57L239.35,382.58L239.40,382.58L239.90,382.61L240.40,382.63L240.90,382.65L241.40,382.67L241.90,382.68L242.40,382.69L242.90,382.70L243.40,382.71L243.90,382.71L244.40,382.72L244.90,382.72L245.40,382.73L245.90,382.73L246.40,382.73L246.90,382.73L247.40,382.73L247.90,382.73L248.40,382.74L248.90,382.74L249.40,382.74L249.90,382.74L250.40,382.74L250.90,382.74L251.40,382.74L251.90,382.73L252.40,382.73L252.90,382.73L253.40,382.73L253.90,382.73L254.40,382.73L254.90,382.73L255.40,382.73L255.90,382.73L256.40,382.72L256.90,382.72L257.40,382.72L257.90,382.72L258.40,382.72L258.90,382.72L259.40,382.71L259.90,382.71L260.40,382.71L260.90,382.71L261.40,382.71L261.90,382.70L262.40,382.70L262.90,382.70L263.40,382.70L263.90,382.70L264.40,382.69L264.90,382.69L265.40,382.69L265.90,382.69L266.40,382.68L266.90,382.68L267.40,382.68L267.90,382.68L268.40,382.68L268.90,382.67L269.40,382.67L269.90,382.67L270.40,382.67L270.90,382.66L271.40,382.66L271.90,382.66L272.40,382.66L272.90,382.65L273.40,382.65L273.90,382.65L274.40,382.65L274.90,382.64L275.40,382.64L275.90,382.64L276.40,382.64L276.90,382.63L277.40,382.63L277.90,382.63L278.40,382.63L278.90,382.62L279.40,382.62L279.90,382.62L280.40,382.62L280.90,382.61L281.40,382.61L281.90,382.61L282.40,382.61L282.90,382.60L283.40,382.60L283.90,382.60L284.40,382.60L284.90,382.59L285.40,382.59L285.90,382.59L286.40,382.59L286.90,382.58L287.40,382.58L287.90,382.58L288.40,382.58L288.90,382.57L289.40,382.57L289.90,382.57L290.40,382.57L290.90,382.56L291.40,382.56L291.90,382.56L292.40,382.56L292.90,382.55L293.40,382.55L293.90,382.55L294.40,382.54L294.90,382.54L295.40,382.54L295.90,382.54L296.40,382.53L296.90,382.53L297.40,382.53L297.90,382.53L298.40,382.52L298.90,382.52L299.40,382.52L299.90,382.52L300.40,382.51L300.90,382.51L301.40,382.51L301.90,382.50L302.40,382.50L302.90,382.50L303.40,382.50L303.90,382.49L304.40,382.49L304.90,382.49L305.40,382.49L305.90,382.48L306.40,382.48L306.90,382.48L307.40,382.48L307.90,382.47L308.40,382.47L308.90,382.47L309.40,382.46L309.90,382.46L310.40,382.46L310.90,382.46L311.40,382.45L311.90,382.45L312.40,382.45L312.90,382.45L313.40,382.44L313.90,382.44L314.40,382.44L314.90,382.44L315.40,382.43L315.90,382.43L316.40,382.43L316.90,382.42L317.40,382.42L317.90,382.42L318.40,382.42L318.90,382.41L319.40,382.41L319.90,382.41L320.40,382.41L320.90,382.40L321.40,382.40L321.90,382.40L322.00,382.40" fill="none" stroke="#00f" stroke-width="2.70" stroke-linejoin="round" stroke-linecap="butt"/>
<path d="M408.40,302.01L408.90,302.01L409.40,302.01L409.90,302.01L410.40,302.01L410.90,302.00L411.40,302.00L411.90,302.00L412.40,302.00L412.90,302.00L413.40,302.00L413.90,301.99L414.40,301.99L414.90,301.99L415.40,301.99L415.90,301.99L416.40,301.99L416.90,301.99L417.40,301.98L417.90,301.98L418.40,301.98L418.90,301.98L419.40,301.98L419.90,301.98L420.40,301.98L420.90,301.98L421.40,301.98L421.90,301.98L422.40,301.99L422.90,301.99L423.40,301.99L423.90,301.99L424.40,302.00L424.90,302.01L425.40,302.01L425.90,302.02L426.40,302.03L426.90,302.05L427.20,302.06L427.35,302.07L427.40,302.07L427.50,302.07L427.65,302.08L427.80,302.09L427.90,302.09L427.95,302.10L428.10,302.11L428.25,302.12L428.40,302.13L428.40,302.13L428.55,302.14L428.70,302.15L428.85,302.17L428.90,302.17L429.00,302.18L429.15,302.20L429.30,302.22L429.40,302.23L429.45,302.24L429.60,302.26L429.75,302.29L429.90,302.32L429.90,302.32L430.05,302.35L430.20,302.39L430.35,302.43L430.40,302.44L430.50,302.47L430.65,302.52L430.80,302.58L430.90,302.62L430.95,302.64L431.10,302.71L431.25,302.79L431.40,302.88L431.40,302.88L431.55,302.99L431.70,303.10L431.85,303.22L431.90,303.27L432.00,303.36L432.15,303.51L432.30,303.66L432.40,303.76L432.45,303.82L432.60,303.96L432.75,304.10L432.90,304.20L432.90,304.20L433.05,304.27L433.20,304.29L433.35,304.27L433.40,304.25L433.50,304.20L433.65,304.09L433.80,303.96L433.90,303.86L433.95,303.81L434.10,303.65L434.25,303.50L434.40,303.35L434.40,303.35L434.55,303.21L434.70,303.09L434.85,302.97L434.90,302.94L435.00,302.87L435.15,302.78L435.30,302.69L435.40,302.64L435.45,302.62L435.60,302.56L435.75,302.50L435.90,302.45L435.90,302.45L436.05,302.40L436.20,302.36L436.35,302.32L436.40,302.31L436.50,302.29L436.65,302.26L436.80,302.23L436.90,302.22L436.95,302.21L437.10,302.18L437.25,302.16L437.40,302.15L437.40,302.15L437.55,302.13L437.70,302.11L437.85,302.10L437.90,302.09L438.00,302.09L438.15,302.07L438.30,302.06L438.40,302.05L438.45,302.05L438.60,302.04L438.75,302.03L438.90,302.02L438.90,302.02L439.05,302.02L439.40,302.00L439.90,301.98L440.40,301.96L440.90,301.95L441.40,301.94L441.90,301.92L442.40,301.92L442.90,301.91L443.40,301.90L443.90,301.89L444.40,301.89L444.90,301.88L445.40,301.88L445.90,301.87L446.40,301.87L446.90,301.86L447.40,301.86L447.90,301.86L448.40,301.85L448.90,301.85L449.40,301.85L449.90,301.84L450.40,301.84L450.90,301.84L451.40,301.84L451.90,301.83L452.40,301.83L452.90,301.83L453.40,301.83L453.90,301.82L454.40,301.82L454.90,301.82L455.40,301.82L455.90,301.82L456.40,301.81L456.90,301.81L457.40,301.81L457.90,301.81L458.40,301.81L458.90,301.81L459.40,301.81L459.90,301.80L460.40,301.80L460.90,301.80L461.40,301.80L461.90,301.80L462.40,301.80L462.90,301.80L463.40,301.80L463.90,301.80L464.40,301.80L464.90,301.80L465.40,301.80L465.90,301.80L466.40,301.80L466.90,301.80L467.40,301.80L467.90,301.80L468.40,301.80L468.90,301.80L469.40,301.81L469.90,301.81L470.40,301.81L470.90,301.82L471.40,301.82L471.90,301.82L472.40,301.83L472.90,301.84L473.40,301.84L473.90,301.85L474.40,301.86L474.90,301.87L475.40,301.88L475.90,301.89L476.40,301.91L476.90,301.92L477.40,301.94L477.90,301.97L478.40,301.99L478.90,302.02L479.40,302.06L479.90,302.11L480.40,302.16L480.90,302.22L481.40,302.30L481.90,302.40L482.40,302.52L482.90,302.67L483.10,302.75L483.25,302.81L483.40,302.88L483.40,302.88L483.55,302.95L483.70,303.04L483.85,303.13L483.90,303.16L484.00,303.22L484.15,303.33L484.30,303.45L484.40,303.54L484.45,303.59L484.60,303.74L484.75,303.90L484.90,304.09L484.90,304.09L485.05,304.30L485.20,304.54L485.35,304.81L485.40,304.91L485.50,305.12L485.65,305.48L485.80,305.88L485.90,306.19L485.95,306.35L486.10,306.89L486.25,307.52L486.40,308.24L486.40,308.24L486.55,309.08L486.70,310.04L486.85,311.12L486.90,311.50L487.00,312.32L487.15,313.60L487.30,314.92L487.40,315.77L487.45,316.18L487.60,317.24L487.75,317.96L487.90,318.24L487.90,318.24L488.00,318.16L488.05,318.03L488.15,317.64L488.20,317.38L488.30,316.75L488.35,316.39L488.40,316.01L488.45,315.62L488.50,315.21L488.60,314.38L488.65,313.97L488.75,313.16L488.80,312.76L488.90,312.01L488.90,312.01L488.95,311.65L489.05,310.98L489.10,310.66L489.20,310.07L489.25,309.80L489.35,309.30L489.40,309.07L489.40,309.07L489.50,308.66L489.55,308.47L489.65,308.12L489.70,307.97L489.80,307.69L489.85,307.57L489.90,307.45L489.95,307.35L490.00,307.25L490.10,307.09L490.15,307.02L490.25,306.91L490.30,306.87L490.40,306.80L490.40,306.80L490.45,306.78L490.55,306.77L490.60,306.77L490.70,306.80L490.75,306.82L490.85,306.90L490.90,306.95L490.90,306.95L491.00,307.07L491.05,307.15L491.15,307.33L491.20,307.43L491.30,307.67L491.35,307.80L491.40,307.94L491.45,308.10L491.50,308.26L491.60,308.62L491.65,308.82L491.75,309.25L491.80,309.48L491.90,309.96L491.90,309.96L491.95,310.22L492.05,310.74L492.10,311.01L492.20,311.55L492.25,311.82L492.35,312.33L492.40,312.56L492.40,312.56L492.50,312.97L492.55,313.14L492.65,313.39L492.70,313.46L492.80,313.50L492.90,313.39L492.95,313.28L493.10,312.76L493.25,312.00L493.40,311.12L493.40,311.12L493.55,310.19L493.70,309.29L493.85,308.45L493.90,308.18L494.00,307.69L494.15,307.01L494.30,306.42L494.40,306.08L494.45,305.91L494.60,305.47L494.75,305.08L494.90,304.75L494.90,304.75L495.05,304.46L495.20,304.21L495.35,303.98L495.40,303.91L495.50,303.79L495.65,303.61L495.80,303.46L495.90,303.37L495.95,303.32L496.10,303.20L496.25,303.09L496.40,302.99L496.40,302.99L496.55,302.90L496.70,302.82L496.85,302.75L496.90,302.72L497.00,302.68L497.15,302.62L497.30,302.56L497.40,302.53L497.45,302.51L497.60,302.46L497.90,302.38L498.40,302.26L498.90,302.16L499.40,302.09L499.90,302.03L500.40,301.97L500.90,301.93L501.40,301.89L501.90,301.86L502.40,301.83L502.90,301.80L503.40,301.78L503.90,301.76L504.40,301.74L504.90,301.72L505.40,301.71L505.90,301.69L506.40,301.68L506.90,301.67L507.40,301.66L507.90,301.65L508.40,301.64L508.90,301.63L509.40,301.62L509.90,301.61L510.40,301.61L510.90,301.60L511.40,301.59L511.90,301.59L512.40,301.58L512.90,301.57L513.40,301.57L513.90,301.56L514.40,301.56L514.90,301.55L515.40,301.55L515.90,301.54L516.40,301.54L516.90,301.53L517.40,301.53L517.90,301.52L518.40,301.52L518.90,301.52L519.40,301.51L519.90,301.51L520.40,301.50L520.90,301.50L521.40,301.50L521.90,301.49L522.40,301.49L522.90,301.48L523.40,301.48L523.90,301.48L524.40,301.47L524.90,301.47L525.40,301.47L525.90,301.46L526.40,301.46L526.90,301.46L527.40,301.45L527.90,301.45L528.40,301.45L528.90,301.44L529.40,301.44L529.90,301.44L530.40,301.43L530.90,301.43L531.40,301.43L531.90,301.43L532.40,301.42L532.90,301.42L533.40,301.42L533.90,301.41L534.40,301.41L534.90,301.41L535.40,301.40L535.90,301.40L536.40,301.40L536.90,301.40L537.40,301.39L537.90,301.39L538.40,301.39L538.90,301.38L539.40,301.38L539.90,301.38L540.40,301.37L540.90,301.37L541.40,301.37L541.90,301.37L542.40,301.36L542.90,301.36L543.40,301.36L543.90,301.35L544.40,301.35L544.90,301.35L545.40,301.35L545.90,301.34L546.40,301.34L546.90,301.34L547.40,301.33L547.90,301.33L548.40,301.33L548.90,301.33L549.40,301.32L549.90,301.32L550.40,301.32L550.90,301.31L551.40,301.31L551.90,301.31L552.40,301.31L552.90,301.30L553.40,301.30L553.90,301.30L554.40,301.29L554.90,301.29L555.40,301.29L555.90,301.28L556.40,301.28L556.90,301.28L557.40,301.27L557.90,301.27L558.40,301.27L558.90,301.27L559.40,301.26L559.90,301.26L560.40,301.26L560.90,301.25L561.40,301.25L561.90,301.25L562.40,301.24L562.90,301.24L563.40,301.24L563.90,301.23L564.40,301.23L564.90,301.23L565.40,301.22L565.90,301.22L566.40,301.21L566.90,301.21L567.40,301.21L567.90,301.20L568.40,301.20L568.90,301.20L569.40,301.19L569.90,301.19L570.40,301.18L570.90,301.18L571.40,301.17L571.90,301.17L572.40,301.17L572.90,301.16L573.40,301.16L573.90,301.15L574.40,301.15L574.90,301.14L575.40,301.13L575.90,301.13L576.40,301.12L576.90,301.12L577.40,301.11L577.90,301.10L578.40,301.10L578.90,301.09L579.40,301.08L579.90,301.07L580.40,301.06L580.90,301.05L581.40,301.04L581.90,301.03L582.40,301.02L582.90,301.01L583.40,301.00L583.90,300.98L584.40,300.97L584.90,300.95L585.40,300.93L585.90,300.91L586.40,300.88L586.90,300.86L587.40,300.83L587.90,300.79L588.40,300.75L588.90,300.70L589.40,300.65L589.90,300.58L590.40,300.50L590.90,300.40L591.30,300.31L591.40,300.28L591.45,300.27L591.60,300.22L591.75,300.18L591.90,300.13L591.90,300.13L592.05,300.07L592.20,300.01L592.35,299.94L592.40,299.92L592.50,299.87L592.65,299.79L592.80,299.71L592.90,299.64L592.95,299.61L593.10,299.51L593.25,299.39L593.40,299.26L593.40,299.26L593.55,299.12L593.70,298.96L593.85,298.77L593.90,298.71L594.00,298.57L594.15,298.34L594.30,298.07L594.40,297.88L594.45,297.78L594.60,297.43L594.75,297.05L594.90,296.60L594.90,296.60L595.05,296.10L595.20,295.53L595.35,294.89L595.40,294.67L595.50,294.19L595.65,293.44L595.80,292.66L595.90,292.14L595.95,291.89L596.10,291.20L596.25,290.65L596.40,290.31L596.40,290.31L596.55,290.22L596.60,290.25L596.70,290.39L596.75,290.49L596.85,290.77L596.90,290.94L596.90,290.94L597.00,291.33L597.05,291.54L597.15,291.97L597.20,292.20L597.30,292.65L597.35,292.87L597.40,293.09L597.45,293.30L597.50,293.51L597.60,293.91L597.65,294.10L597.75,294.45L597.80,294.61L597.90,294.91L597.90,294.91L597.95,295.05L598.05,295.30L598.10,295.41L598.20,295.61L598.25,295.70L598.35,295.85L598.40,295.92L598.40,295.92L598.50,296.03L598.55,296.08L598.65,296.15L598.70,296.17L598.80,296.21L598.85,296.22L598.90,296.22L598.95,296.21L599.00,296.20L599.10,296.16L599.15,296.13L599.25,296.05L599.30,296.00L599.40,295.88L599.40,295.88L599.45,295.81L599.55,295.65L599.60,295.56L599.70,295.35L599.75,295.24L599.85,294.98L599.90,294.84L599.90,294.84L600.00,294.53L600.05,294.36L600.15,293.99L600.20,293.79L600.30,293.35L600.35,293.11L600.40,292.86L600.45,292.60L600.50,292.33L600.60,291.75L600.65,291.44L600.75,290.79L600.80,290.45L600.90,289.74L600.90,289.74L600.95,289.37L601.05,288.63L601.10,288.25L601.20,287.51L601.25,287.16L601.35,286.48L601.40,286.17L601.40,286.17L601.50,285.64L601.55,285.42L601.65,285.09L601.70,284.98L601.85,284.95L601.90,285.02L602.00,285.31L602.15,286.03L602.30,287.01L602.40,287.75L602.45,288.14L602.60,289.33L602.75,290.49L602.90,291.59L602.90,291.59L603.05,292.59L603.20,293.49L603.35,294.28L603.40,294.53L603.50,294.98L603.65,295.60L603.80,296.13L603.90,296.45L603.95,296.60L604.10,297.01L604.25,297.37L604.40,297.68L604.40,297.68L604.55,297.96L604.70,298.21L604.85,298.43L604.90,298.50L605.00,298.63L605.15,298.80L605.30,298.96L605.40,299.05L605.45,299.10L605.60,299.23L605.75,299.34L605.90,299.45L605.90,299.45L606.05,299.54L606.20,299.63L606.35,299.71L606.40,299.74L606.50,299.78L606.65,299.85L606.80,299.91L606.90,299.95L606.95,299.97L607.40,300.12L607.90,300.24L608.40,300.35L608.90,300.43L609.40,300.50L609.90,300.56L610.40,300.60L610.90,300.64L611.40,300.68L611.90,300.71L612.40,300.73L612.90,300.75L613.40,300.77L613.90,300.79L614.40,300.80L614.90,300.81L615.40,300.83L615.90,300.84L616.40,300.84L616.90,300.85L617.40,300.86L617.90,300.86L618.40,300.87L618.90,300.87L619.40,300.88L619.90,300.88L620.40,300.88L620.90,300.89L621.40,300.89L621.90,300.89L622.40,300.89L622.90,300.89L623.40,300.89L623.90,300.89L624.40,300.90L624.90,300.90L625.40,300.90L625.90,300.90L626.40,300.90L626.90,300.90L627.40,300.89L627.90,300.89L628.40,300.89L628.90,300.89L629.40,300.89L629.90,300.89L630.40,300.89L630.90,300.89L631.40,300.89L631.90,300.89L632.40,300.88L632.90,300.88L633.40,300.88L633.90,300.88L634.40,300.88L634.90,300.88L635.40,300.87L635.90,300.87L636.40,300.87L636.90,300.87L637.40,300.86L637.90,300.86L638.40,300.86L638.90,300.86L639.40,300.85L639.90,300.85L640.40,300.85L640.90,300.84L641.40,300.84L641.90,300.84L642.40,300.83L642.90,300.83L643.40,300.82L643.90,300.82L644.40,300.81L644.90,300.81L645.40,300.80L645.90,300.80L646.40,300.79L646.90,300.78L647.40,300.77L647.90,300.76L648.40,300.75L648.90,300.73L649.40,300.71L649.90,300.69L650.40,300.67L650.55,300.66L650.70,300.65L650.85,300.64L650.90,300.64L651.00,300.63L651.15,300.62L651.30,300.61L651.40,300.60L651.45,300.59L651.60,300.58L651.75,300.56L651.90,300.55L651.90,300.55L652.05,300.53L652.20,300.51L652.35,300.49L652.40,300.48L652.50,300.46L652.65,300.44L652.80,300.41L652.90,300.39L652.95,300.38L653.10,300.34L653.25,300.30L653.40,300.26L653.40,300.26L653.55,300.21L653.70,300.16L653.85,300.10L653.90,300.08L654.00,300.03L654.15,299.96L654.30,299.87L654.40,299.81L654.45,299.78L654.60,299.67L654.75,299.55L654.90,299.41L654.90,299.41L655.05,299.27L655.20,299.11L655.35,298.93L655.40,298.87L655.50,298.75L655.65,298.57L655.80,298.40L655.90,298.29L655.95,298.24L656.10,298.12L656.25,298.04L656.40,298.01L656.40,298.01L656.55,298.03L656.70,298.11L656.85,298.24L656.90,298.29L657.00,298.39L657.15,298.56L657.30,298.75L657.40,298.87L657.45,298.92L657.60,299.10L657.75,299.26L657.90,299.40L657.90,299.40L658.05,299.53L658.20,299.65L658.35,299.76L658.40,299.79L658.50,299.85L658.65,299.94L658.80,300.01L658.90,300.06L658.95,300.08L659.10,300.14L659.25,300.19L659.40,300.23L659.40,300.23L659.55,300.28L659.70,300.31L659.85,300.35L659.90,300.36L660.00,300.38L660.15,300.41L660.30,300.43L660.40,300.45L660.45,300.45L660.60,300.47L660.75,300.49L660.90,300.51L660.90,300.51L661.05,300.52L661.20,300.54L661.35,300.55L661.40,300.55L661.50,300.56L661.65,300.57L661.80,300.58L661.90,300.59L661.95,300.59L662.10,300.60L662.25,300.61L662.40,300.62L662.90,300.64L663.40,300.65L663.90,300.67L664.40,300.68L664.90,300.69L665.40,300.69L665.90,300.70L666.40,300.70L666.90,300.71L667.40,300.71L667.90,300.71L668.40,300.71L668.90,300.71L669.40,300.71L669.90,300.71L670.40,300.71L670.90,300.71L671.40,300.71L671.90,300.71L672.40,300.71L672.90,300.71L673.40,300.71L673.90,300.71L674.40,300.71L674.90,300.71L675.40,300.71L675.90,300.70L676.40,300.70L676.90,300.70L677.40,300.70L677.90,300.70L678.40,300.70L678.90,300.69L679.40,300.69L679.90,300.69L680.40,300.69L680.90,300.69L681.40,300.69L681.60,300.68" fill="none" stroke="#000" stroke-width="2.70" stroke-linejoin="round" stroke-linecap="butt"/>
<path d="M408.40,343.01L408.90,343.01L409.40,343.00L409.90,343.00L410.40,343.00L410.90,343.00L411.40,342.99L411.90,342.99L412.40,342.99L412.90,342.99L413.40,342.99L413.90,342.98L414.40,342.98L414.90,342.98L415.40,342.98L415.90,342.97L416.40,342.97L416.90,342.97L417.40,342.97L417.90,342.97L418.40,342.96L418.90,342.96L419.40,342.96L419.90,342.96L420.40,342.95L420.90,342.95L421.40,342.95L421.90,342.95L422.40,342.95L422.90,342.94L423.40,342.94L423.90,342.94L424.40,342.94L424.90,342.94L425.40,342.93L425.90,342.93L426.40,342.93L426.90,342.93L427.40,342.92L427.90,342.92L428.40,342.92L428.90,342.92L429.40,342.92L429.90,342.91L430.40,342.91L430.90,342.91L431.40,342.91L431.90,342.91L432.40,342.90L432.90,342.90L433.40,342.90L433.90,342.90L434.40,342.90L434.90,342.89L435.40,342.89L435.90,342.89L436.40,342.89L436.90,342.89L437.40,342.89L437.90,342.88L438.40,342.88L438.90,342.88L439.40,342.88L439.90,342.88L440.40,342.88L440.90,342.87L441.40,342.87L441.90,342.87L442.40,342.87L442.90,342.87L443.40,342.87L443.90,342.87L444.40,342.87L444.90,342.86L445.40,342.86L445.90,342.86L446.40,342.86L446.90,342.86L447.40,342.86L447.90,342.86L448.40,342.86L448.90,342.86L449.40,342.86L449.90,342.87L450.40,342.87L450.90,342.87L451.40,342.87L451.90,342.88L452.40,342.88L452.90,342.89L453.20,342.90L453.35,342.90L453.40,342.90L453.50,342.90L453.65,342.91L453.80,342.91L453.90,342.91L453.95,342.91L454.10,342.92L454.25,342.92L454.40,342.93L454.40,342.93L454.55,342.94L454.70,342.94L454.85,342.95L454.90,342.95L455.00,342.96L455.15,342.97L455.30,342.98L455.40,342.98L455.45,342.99L455.60,343.00L455.75,343.01L455.90,343.03L455.90,343.03L456.05,343.04L456.20,343.06L456.35,343.08L456.40,343.09L456.50,343.10L456.65,343.13L456.80,343.16L456.90,343.18L456.95,343.19L457.10,343.22L457.25,343.26L457.40,343.31L457.40,343.31L457.55,343.36L457.70,343.42L457.85,343.48L457.90,343.50L458.00,343.55L458.15,343.62L458.30,343.70L458.40,343.75L458.45,343.78L458.60,343.85L458.75,343.92L458.90,343.97L458.90,343.97L459.05,344.00L459.20,344.02L459.35,344.00L459.40,343.99L459.50,343.97L459.65,343.92L459.80,343.85L459.90,343.80L459.95,343.77L460.10,343.70L460.25,343.62L460.40,343.55L460.40,343.55L460.55,343.48L460.70,343.41L460.85,343.36L460.90,343.34L461.00,343.31L461.15,343.26L461.30,343.22L461.40,343.20L461.45,343.18L461.60,343.15L461.75,343.12L461.90,343.10L461.90,343.10L462.05,343.08L462.20,343.05L462.35,343.04L462.40,343.03L462.50,343.02L462.65,343.01L462.80,342.99L462.90,342.98L462.95,342.98L463.10,342.97L463.25,342.96L463.40,342.95L463.40,342.95L463.55,342.94L463.70,342.94L463.85,342.93L463.90,342.93L464.00,342.92L464.15,342.92L464.30,342.91L464.40,342.91L464.45,342.91L464.60,342.90L464.75,342.90L464.90,342.90L464.90,342.90L465.05,342.89L465.40,342.89L465.90,342.88L466.40,342.87L466.90,342.87L467.40,342.87L467.90,342.87L468.40,342.87L468.90,342.87L469.40,342.87L469.90,342.87L470.40,342.88L470.90,342.88L471.40,342.89L471.90,342.90L472.40,342.90L472.90,342.91L473.40,342.93L473.90,342.94L474.40,342.95L474.90,342.97L475.40,342.99L475.90,343.02L476.40,343.04L476.90,343.08L477.40,343.11L477.90,343.16L478.40,343.21L478.90,343.28L479.40,343.36L479.90,343.47L480.40,343.60L480.50,343.63L480.65,343.68L480.80,343.73L480.90,343.76L480.95,343.78L481.10,343.85L481.25,343.91L481.40,343.99L481.40,343.99L481.55,344.07L481.70,344.16L481.85,344.25L481.90,344.29L482.00,344.36L482.15,344.48L482.30,344.61L482.40,344.71L482.45,344.76L482.60,344.92L482.75,345.11L482.90,345.31L482.90,345.31L483.05,345.55L483.20,345.81L483.35,346.11L483.40,346.22L483.50,346.46L483.65,346.85L483.80,347.30L483.90,347.63L483.95,347.81L484.10,348.40L484.25,349.07L484.40,349.82L484.40,349.82L484.55,350.67L484.70,351.61L484.85,352.61L484.90,352.96L485.00,353.65L485.15,354.67L485.30,355.58L485.40,356.08L485.45,356.29L485.60,356.71L485.75,356.78L485.90,356.49L485.90,356.49L486.05,355.89L486.20,355.05L486.35,354.08L486.40,353.75L486.50,353.07L486.65,352.07L486.80,351.13L486.90,350.55L486.95,350.27L487.10,349.50L487.25,348.83L487.40,348.24L487.40,348.24L487.55,347.73L487.70,347.29L487.85,346.90L487.90,346.79L488.00,346.57L488.15,346.29L488.30,346.04L488.40,345.90L488.45,345.83L488.60,345.65L488.75,345.49L488.90,345.35L488.90,345.35L489.05,345.24L489.20,345.14L489.35,345.06L489.40,345.04L489.50,345.00L489.65,344.95L489.80,344.91L489.90,344.89L489.95,344.88L490.10,344.87L490.25,344.86L490.30,344.86L490.40,344.87L490.40,344.87L490.45,344.87L490.55,344.89L490.60,344.89L490.70,344.91L490.75,344.93L490.85,344.95L490.90,344.97L490.90,344.97L491.05,345.02L491.20,345.09L491.35,345.17L491.40,345.20L491.50,345.27L491.65,345.38L491.80,345.51L491.90,345.60L491.95,345.66L492.10,345.82L492.25,346.02L492.40,346.24L492.40,346.24L492.55,346.49L492.70,346.78L492.85,347.11L492.90,347.23L493.00,347.49L493.15,347.92L493.30,348.42L493.40,348.79L493.45,348.99L493.60,349.65L493.75,350.41L493.90,351.28L493.90,351.28L494.05,352.27L494.20,353.40L494.35,354.67L494.40,355.13L494.50,356.07L494.65,357.58L494.80,359.14L494.90,360.17L494.95,360.66L495.10,362.03L495.25,363.09L495.40,363.70L495.40,363.70L495.55,363.79L495.70,363.32L495.85,362.38L495.90,361.98L496.00,361.09L496.15,359.59L496.30,358.01L496.40,356.97L496.45,356.47L496.60,355.01L496.75,353.68L496.90,352.48L496.90,352.48L497.05,351.42L497.20,350.50L497.35,349.68L497.40,349.44L497.50,348.97L497.65,348.35L497.80,347.81L497.90,347.49L497.95,347.34L498.10,346.92L498.25,346.55L498.40,346.22L498.40,346.22L498.55,345.94L498.70,345.68L498.85,345.45L498.90,345.38L499.00,345.24L499.15,345.06L499.30,344.89L499.40,344.79L499.45,344.74L499.60,344.60L499.75,344.47L499.90,344.36L499.90,344.36L500.05,344.26L500.20,344.16L500.35,344.07L500.40,344.05L500.50,343.99L500.65,343.92L500.90,343.81L501.40,343.62L501.90,343.47L502.40,343.35L502.90,343.25L503.40,343.17L503.90,343.10L504.40,343.04L504.90,342.99L505.40,342.95L505.90,342.91L506.40,342.88L506.90,342.85L507.40,342.82L507.90,342.80L508.40,342.77L508.90,342.75L509.40,342.74L509.90,342.72L510.40,342.70L510.90,342.69L511.40,342.68L511.90,342.67L512.40,342.65L512.90,342.64L513.40,342.63L513.90,342.62L514.40,342.62L514.90,342.61L515.40,342.60L515.90,342.59L516.40,342.58L516.90,342.58L517.40,342.57L517.90,342.56L518.40,342.56L518.90,342.55L519.40,342.55L519.90,342.54L520.40,342.53L520.90,342.53L521.40,342.52L521.90,342.52L522.40,342.51L522.90,342.51L523.40,342.50L523.90,342.50L524.40,342.50L524.90,342.49L525.40,342.49L525.90,342.48L526.40,342.48L526.90,342.47L527.40,342.47L527.90,342.47L528.40,342.46L528.90,342.46L529.40,342.46L529.90,342.45L530.40,342.45L530.90,342.44L531.40,342.44L531.90,342.44L532.40,342.43L532.90,342.43L533.40,342.43L533.90,342.42L534.40,342.42L534.90,342.42L535.40,342.41L535.90,342.41L536.40,342.41L536.90,342.40L537.40,342.40L537.90,342.40L538.40,342.39L538.90,342.39L539.40,342.39L539.90,342.38L540.40,342.38L540.90,342.38L541.40,342.37L541.90,342.37L542.40,342.37L542.90,342.36L543.40,342.36L543.90,342.36L544.40,342.35L544.90,342.35L545.40,342.35L545.90,342.34L546.40,342.34L546.90,342.34L547.40,342.33L547.90,342.33L548.40,342.33L548.90,342.33L549.40,342.32L549.90,342.32L550.40,342.32L550.90,342.31L551.40,342.31L551.90,342.31L552.40,342.30L552.90,342.30L553.40,342.30L553.90,342.29L554.40,342.29L554.90,342.29L555.40,342.28L555.90,342.28L556.40,342.28L556.90,342.27L557.40,342.27L557.90,342.26L558.40,342.26L558.90,342.26L559.40,342.25L559.90,342.25L560.40,342.25L560.90,342.24L561.40,342.24L561.90,342.23L562.40,342.23L562.90,342.23L563.40,342.22L563.90,342.22L564.40,342.21L564.90,342.21L565.40,342.21L565.90,342.20L566.40,342.20L566.90,342.19L567.40,342.19L567.90,342.18L568.40,342.18L568.90,342.17L569.40,342.17L569.90,342.16L570.40,342.16L570.90,342.15L571.40,342.14L571.90,342.14L572.40,342.13L572.90,342.12L573.40,342.12L573.90,342.11L574.40,342.10L574.90,342.09L575.40,342.08L575.90,342.07L576.40,342.06L576.90,342.05L577.40,342.04L577.90,342.03L578.40,342.02L578.90,342.00L579.40,341.99L579.90,341.97L580.40,341.95L580.90,341.93L581.40,341.91L581.90,341.89L582.40,341.86L582.90,341.83L583.40,341.80L583.90,341.76L584.40,341.71L584.90,341.66L585.40,341.60L585.90,341.53L586.40,341.45L586.90,341.35L587.40,341.22L587.90,341.06L588.40,340.87L588.55,340.80L588.70,340.72L588.85,340.64L588.90,340.61L589.00,340.55L589.15,340.45L589.30,340.34L589.40,340.27L589.45,340.23L589.60,340.10L589.75,339.96L589.90,339.80L589.90,339.80L590.05,339.63L590.20,339.44L590.35,339.22L590.40,339.15L590.50,338.99L590.65,338.72L590.80,338.41L590.90,338.19L590.95,338.07L591.10,337.69L591.25,337.25L591.40,336.75L591.40,336.75L591.55,336.17L591.70,335.52L591.85,334.77L591.90,334.50L592.00,333.91L592.15,332.93L592.30,331.82L592.40,331.01L592.45,330.58L592.60,329.21L592.75,327.74L592.90,326.22L592.90,326.22L593.05,324.73L593.20,323.40L593.35,322.36L593.40,322.11L593.50,321.75L593.65,321.66L593.80,322.09L593.90,322.64L593.95,322.99L594.10,324.22L594.25,325.66L594.40,327.17L594.40,327.17L594.55,328.65L594.70,330.05L594.85,331.32L594.90,331.72L595.00,332.46L595.15,333.47L595.30,334.35L595.40,334.88L595.45,335.12L595.60,335.79L595.75,336.38L595.90,336.88L595.90,336.88L596.05,337.33L596.20,337.72L596.35,338.05L596.40,338.16L596.50,338.35L596.65,338.61L596.80,338.84L596.90,338.98L596.95,339.05L597.10,339.22L597.25,339.38L597.40,339.52L597.40,339.52L597.55,339.64L597.70,339.75L597.85,339.85L597.90,339.87L598.00,339.93L598.15,340.00L598.30,340.06L598.40,340.10L598.45,340.11L598.60,340.15L598.75,340.19L598.90,340.22L599.10,340.24L599.25,340.25L599.40,340.25L599.40,340.25L599.55,340.24L599.70,340.23L599.85,340.20L599.90,340.19L600.00,340.17L600.15,340.13L600.30,340.08L600.40,340.04L600.45,340.02L600.60,339.95L600.75,339.86L600.90,339.77L600.90,339.77L601.05,339.65L601.20,339.52L601.35,339.37L601.40,339.31L601.50,339.19L601.65,338.99L601.80,338.75L601.90,338.58L601.95,338.48L602.10,338.17L602.25,337.82L602.40,337.40L602.40,337.40L602.55,336.93L602.70,336.38L602.85,335.76L602.90,335.53L603.00,335.04L603.15,334.24L603.30,333.36L603.40,332.73L603.45,332.41L603.60,331.42L603.75,330.46L603.90,329.60L603.90,329.60L604.05,328.93L604.20,328.55L604.35,328.50L604.40,328.56L604.50,328.79L604.65,329.39L604.80,330.21L604.90,330.84L604.95,331.16L605.10,332.16L605.25,333.14L605.40,334.07L605.40,334.07L605.55,334.91L605.70,335.67L605.85,336.34L605.90,336.55L606.00,336.93L606.15,337.45L606.30,337.90L606.40,338.17L606.45,338.29L606.60,338.64L606.75,338.94L606.90,339.20L606.90,339.20L607.05,339.44L607.20,339.64L607.35,339.83L607.40,339.88L607.50,339.99L607.65,340.14L607.80,340.27L607.90,340.35L607.95,340.39L608.10,340.49L608.25,340.59L608.40,340.68L608.40,340.68L608.55,340.76L608.70,340.83L608.85,340.89L608.90,340.92L609.00,340.96L609.15,341.01L609.30,341.06L609.40,341.09L609.45,341.11L609.90,341.23L610.40,341.34L610.90,341.42L611.40,341.49L611.90,341.55L612.40,341.59L612.90,341.63L613.40,341.67L613.90,341.69L614.40,341.72L614.90,341.74L615.40,341.76L615.90,341.77L616.40,341.78L616.90,341.79L617.40,341.80L617.90,341.81L618.40,341.82L618.90,341.82L619.40,341.83L619.90,341.83L620.40,341.83L620.90,341.84L621.40,341.84L621.90,341.84L622.40,341.83L622.90,341.83L623.40,341.83L623.90,341.82L624.40,341.81L624.55,341.81L624.70,341.81L624.85,341.80L624.90,341.80L625.00,341.80L625.15,341.80L625.30,341.79L625.40,341.79L625.45,341.79L625.60,341.78L625.75,341.77L625.90,341.77L625.90,341.77L626.05,341.76L626.20,341.75L626.35,341.74L626.40,341.74L626.50,341.73L626.65,341.72L626.80,341.71L626.90,341.70L626.95,341.70L627.10,341.68L627.25,341.67L627.40,341.65L627.40,341.65L627.55,341.63L627.70,341.61L627.85,341.58L627.90,341.57L628.00,341.55L628.15,341.52L628.30,341.48L628.40,341.46L628.45,341.44L628.60,341.40L628.75,341.35L628.90,341.29L628.90,341.29L629.05,341.23L629.20,341.16L629.35,341.08L629.40,341.06L629.50,341.01L629.65,340.93L629.80,340.85L629.90,340.81L629.95,340.79L630.10,340.73L630.25,340.70L630.40,340.69L630.40,340.69L630.55,340.70L630.70,340.73L630.85,340.79L630.90,340.81L631.00,340.85L631.15,340.93L631.30,341.01L631.40,341.06L631.45,341.08L631.60,341.16L631.75,341.22L631.90,341.29L631.90,341.29L632.05,341.34L632.20,341.39L632.35,341.44L632.40,341.45L632.50,341.48L632.65,341.52L632.80,341.55L632.90,341.57L632.95,341.58L633.10,341.60L633.25,341.62L633.40,341.64L633.40,341.64L633.55,341.66L633.70,341.68L633.85,341.69L633.90,341.70L634.00,341.71L634.15,341.72L634.30,341.73L634.40,341.73L634.45,341.74L634.60,341.75L634.75,341.75L634.90,341.76L634.90,341.76L635.05,341.77L635.20,341.77L635.35,341.78L635.40,341.78L635.50,341.78L635.65,341.79L635.80,341.79L635.90,341.80L635.95,341.80L636.10,341.80L636.25,341.80L636.40,341.81L636.90,341.82L637.40,341.82L637.90,341.83L638.40,341.83L638.90,341.83L639.40,341.84L639.90,341.84L640.40,341.84L640.90,341.84L641.40,341.84L641.90,341.84L642.40,341.84L642.90,341.84L643.40,341.84L643.90,341.84L644.40,341.84L644.90,341.84L645.40,341.84L645.90,341.84L646.40,341.83L646.90,341.83L647.40,341.83L647.90,341.83L648.40,341.83L648.90,341.83L649.40,341.83L649.90,341.82L650.40,341.82L650.90,341.82L651.40,341.82L651.90,341.82L652.40,341.82L652.90,341.81L653.40,341.81L653.90,341.81L654.40,341.81L654.90,341.81L655.40,341.81L655.90,341.80L656.40,341.80L656.90,341.80L657.40,341.80L657.90,341.80L658.40,341.79L658.90,341.79L659.40,341.79L659.90,341.79L660.40,341.79L660.90,341.78L661.40,341.78L661.90,341.78L662.40,341.78L662.90,341.77L663.40,341.77L663.90,341.77L664.40,341.77L664.90,341.77L665.40,341.76L665.90,341.76L666.40,341.76L666.90,341.76L667.40,341.76L667.90,341.75L668.40,341.75L668.90,341.75L669.40,341.75L669.90,341.74L670.40,341.74L670.90,341.74L671.40,341.74L671.90,341.74L672.40,341.73L672.90,341.73L673.40,341.73L673.90,341.73L674.40,341.72L674.90,341.72L675.40,341.72L675.90,341.72L676.40,341.72L676.90,341.71L677.40,341.71L677.90,341.71L678.40,341.71L678.90,341.70L679.40,341.70L679.90,341.70L680.40,341.70L680.90,341.70L681.40,341.69L681.60,341.69" fill="none" stroke="#0f0" stroke-width="2.70" stroke-linejoin="round" stroke-linecap="butt"/>
<path d="M408.40,322.51L408.90,322.51L409.40,322.50L409.90,322.50L410.40,322.50L410.90,322.49L411.40,322.49L411.90,322.49L412.40,322.48L412.90,322.48L413.40,322.48L413.90,322.47L414.40,322.47L414.90,322.47L415.40,322.46L415.90,322.46L416.40,322.46L416.90,322.46L417.40,322.45L417.90,322.45L418.40,322.45L418.90,322.44L419.40,322.44L419.90,322.44L420.40,322.43L420.90,322.43L421.40,322.43L421.90,322.42L422.40,322.42L422.90,322.42L423.40,322.41L423.90,322.41L424.40,322.41L424.90,322.41L425.40,322.40L425.90,322.40L426.40,322.40L426.90,322.39L427.40,322.39L427.90,322.39L428.40,322.38L428.90,322.38L429.40,322.38L429.90,322.38L430.40,322.37L430.90,322.37L431.40,322.37L431.90,322.36L432.40,322.36L432.90,322.36L433.40,322.35L433.90,322.35L434.40,322.35L434.90,322.35L435.40,322.34L435.90,322.34L436.40,322.34L436.90,322.33L437.40,322.33L437.90,322.33L438.40,322.33L438.90,322.32L439.40,322.32L439.90,322.32L440.40,322.32L440.90,322.31L441.40,322.31L441.90,322.31L442.40,322.30L442.90,322.30L443.40,322.30L443.90,322.30L444.40,322.29L444.90,322.29L445.40,322.29L445.90,322.29L446.40,322.28L446.90,322.28L447.40,322.28L447.90,322.28L448.40,322.27L448.90,322.27L449.40,322.27L449.90,322.27L450.40,322.27L450.90,322.26L451.40,322.26L451.90,322.26L452.40,322.26L452.90,322.25L453.40,322.25L453.90,322.25L454.40,322.25L454.90,322.25L455.40,322.25L455.90,322.24L456.40,322.24L456.90,322.24L457.40,322.24L457.90,322.24L458.40,322.24L458.90,322.24L459.40,322.24L459.90,322.23L460.40,322.23L460.90,322.23L461.40,322.23L461.90,322.23L462.40,322.23L462.90,322.23L463.40,322.23L463.90,322.23L464.40,322.23L464.90,322.23L465.40,322.24L465.90,322.24L466.40,322.24L466.90,322.24L467.40,322.24L467.90,322.25L468.40,322.25L468.90,322.25L469.40,322.26L469.90,322.26L470.40,322.27L470.90,322.27L471.40,322.28L471.90,322.29L472.40,322.30L472.90,322.31L473.40,322.32L473.90,322.33L474.40,322.34L474.90,322.36L475.40,322.37L475.90,322.39L476.40,322.41L476.90,322.44L477.40,322.47L477.90,322.50L478.40,322.53L478.90,322.57L479.40,322.62L479.90,322.67L480.40,322.74L480.90,322.81L481.40,322.90L481.90,323.00L482.40,323.12L482.90,323.26L483.40,323.44L483.90,323.66L484.30,323.87L484.40,323.93L484.45,323.96L484.60,324.06L484.75,324.16L484.90,324.28L484.90,324.28L485.05,324.40L485.20,324.53L485.35,324.67L485.40,324.72L485.50,324.82L485.65,324.99L485.80,325.17L485.90,325.31L485.95,325.37L486.10,325.59L486.25,325.83L486.40,326.09L486.40,326.09L486.55,326.38L486.70,326.70L486.85,327.05L486.90,327.17L487.00,327.44L487.15,327.87L487.30,328.35L487.40,328.71L487.45,328.89L487.60,329.50L487.75,330.17L487.90,330.93L487.90,330.93L488.05,331.79L488.20,332.75L488.35,333.83L488.40,334.22L488.50,335.04L488.65,336.40L488.80,337.91L488.90,339.01L488.95,339.59L489.10,341.41L489.25,343.37L489.40,345.42L489.40,345.42L489.55,347.48L489.70,349.46L489.85,351.22L489.90,351.74L490.00,352.63L490.15,353.54L490.30,353.85L490.40,353.71L490.45,353.54L490.60,352.63L490.75,351.22L490.90,349.45L490.90,349.45L491.05,347.47L491.20,345.40L491.35,343.36L491.40,342.69L491.50,341.40L491.65,339.57L491.80,337.89L491.90,336.87L491.95,336.38L492.10,335.02L492.25,333.80L492.40,332.72L492.40,332.72L492.55,331.75L492.70,330.90L492.85,330.14L492.90,329.90L493.00,329.46L493.15,328.86L493.30,328.31L493.40,327.99L493.45,327.83L493.60,327.39L493.75,327.00L493.90,326.65L493.90,326.65L494.05,326.33L494.20,326.04L494.35,325.78L494.40,325.69L494.50,325.54L494.65,325.32L494.80,325.11L494.90,324.99L494.95,324.93L495.10,324.76L495.25,324.60L495.40,324.46L495.40,324.46L495.55,324.33L495.70,324.20L495.85,324.09L495.90,324.05L496.00,323.98L496.15,323.88L496.40,323.73L496.90,323.48L497.40,323.27L497.90,323.10L498.40,322.96L498.90,322.84L499.40,322.74L499.90,322.65L500.40,322.58L500.90,322.51L501.40,322.45L501.90,322.40L502.40,322.36L502.90,322.32L503.40,322.28L503.90,322.25L504.40,322.22L504.90,322.19L505.40,322.16L505.90,322.14L506.40,322.12L506.90,322.10L507.40,322.08L507.90,322.07L508.40,322.05L508.90,322.04L509.40,322.02L509.90,322.01L510.40,322.00L510.90,321.98L511.40,321.97L511.90,321.96L512.40,321.95L512.90,321.94L513.40,321.93L513.90,321.92L514.40,321.92L514.90,321.91L515.40,321.90L515.90,321.89L516.40,321.88L516.90,321.88L517.40,321.87L517.90,321.86L518.40,321.86L518.90,321.85L519.40,321.84L519.90,321.84L520.40,321.83L520.90,321.82L521.40,321.82L521.90,321.81L522.40,321.81L522.90,321.80L523.40,321.80L523.90,321.79L524.40,321.79L524.90,321.78L525.40,321.77L525.90,321.77L526.40,321.76L526.90,321.76L527.40,321.75L527.90,321.75L528.40,321.75L528.90,321.74L529.40,321.74L529.90,321.73L530.40,321.73L530.90,321.72L531.40,321.72L531.90,321.71L532.40,321.71L532.90,321.70L533.40,321.70L533.90,321.69L534.40,321.69L534.90,321.69L535.40,321.68L535.90,321.68L536.40,321.67L536.90,321.67L537.40,321.66L537.90,321.66L538.40,321.66L538.90,321.65L539.40,321.65L539.90,321.64L540.40,321.64L540.90,321.63L541.40,321.63L541.90,321.63L542.40,321.62L542.90,321.62L543.40,321.61L543.90,321.61L544.40,321.61L544.90,321.60L545.40,321.60L545.90,321.59L546.40,321.59L546.90,321.58L547.40,321.58L547.90,321.58L548.40,321.57L548.90,321.57L549.40,321.56L549.90,321.56L550.40,321.56L550.90,321.55L551.40,321.55L551.90,321.54L552.40,321.54L552.90,321.53L553.40,321.53L553.90,321.53L554.40,321.52L554.90,321.52L555.40,321.51L555.90,321.51L556.40,321.50L556.90,321.50L557.40,321.50L557.90,321.49L558.40,321.49L558.90,321.48L559.40,321.48L559.90,321.47L560.40,321.47L560.90,321.46L561.40,321.46L561.90,321.45L562.40,321.45L562.90,321.44L563.40,321.44L563.90,321.43L564.40,321.43L564.90,321.42L565.40,321.42L565.90,321.41L566.40,321.41L566.90,321.40L567.40,321.40L567.90,321.39L568.40,321.39L568.90,321.38L569.40,321.37L569.90,321.37L570.40,321.36L570.90,321.35L571.40,321.35L571.90,321.34L572.40,321.33L572.90,321.33L573.40,321.32L573.90,321.31L574.40,321.31L574.90,321.30L575.40,321.29L575.90,321.28L576.40,321.27L576.90,321.26L577.40,321.25L577.90,321.24L578.40,321.23L578.90,321.22L579.40,321.21L579.90,321.20L580.40,321.18L580.90,321.17L581.40,321.15L581.90,321.14L582.40,321.12L582.90,321.10L583.40,321.08L583.90,321.06L584.40,321.04L584.90,321.01L585.40,320.99L585.90,320.96L586.40,320.92L586.90,320.88L587.40,320.84L587.90,320.80L588.40,320.74L588.90,320.68L589.40,320.62L589.90,320.54L590.40,320.45L590.90,320.34L591.40,320.21L591.90,320.06L592.40,319.88L592.90,319.65L593.20,319.50L593.35,319.41L593.40,319.38L593.50,319.31L593.65,319.21L593.80,319.10L593.90,319.02L593.95,318.98L594.10,318.85L594.25,318.72L594.40,318.57L594.40,318.57L594.55,318.41L594.70,318.23L594.85,318.04L594.90,317.97L595.00,317.83L595.15,317.60L595.30,317.34L595.40,317.16L595.45,317.07L595.60,316.76L595.75,316.42L595.90,316.05L595.90,316.05L596.05,315.63L596.20,315.17L596.35,314.65L596.40,314.47L596.50,314.07L596.65,313.43L596.80,312.70L596.90,312.16L596.95,311.88L597.10,310.96L597.25,309.92L597.40,308.76L597.40,308.76L597.55,307.46L597.70,306.01L597.85,304.41L597.90,303.84L598.00,302.66L598.15,300.79L598.30,298.83L598.40,297.51L598.45,296.85L598.60,294.96L598.75,293.27L598.90,291.92L598.90,291.92L599.05,291.05L599.20,290.75L599.35,291.05L599.40,291.28L599.50,291.92L599.65,293.26L599.80,294.95L599.90,296.20L599.95,296.84L600.10,298.82L600.25,300.77L600.40,302.64L600.40,302.64L600.55,304.39L600.70,305.99L600.85,307.44L600.90,307.89L601.00,308.74L601.15,309.90L601.30,310.93L601.40,311.56L601.45,311.85L601.60,312.67L601.75,313.39L601.90,314.04L601.90,314.04L602.05,314.61L602.20,315.13L602.35,315.59L602.40,315.73L602.50,316.00L602.65,316.38L602.80,316.71L602.90,316.92L602.95,317.02L603.10,317.29L603.25,317.54L603.40,317.77L603.40,317.77L603.55,317.98L603.70,318.17L603.85,318.34L603.90,318.40L604.00,318.50L604.15,318.65L604.30,318.79L604.40,318.87L604.45,318.91L604.60,319.03L604.75,319.14L604.90,319.24L604.90,319.24L605.05,319.33L605.40,319.52L605.90,319.75L606.40,319.93L606.90,320.08L607.40,320.21L607.90,320.31L608.40,320.40L608.90,320.47L609.40,320.54L609.90,320.59L610.40,320.64L610.90,320.68L611.40,320.71L611.90,320.74L612.40,320.77L612.90,320.80L613.40,320.82L613.90,320.84L614.40,320.85L614.90,320.87L615.40,320.88L615.90,320.89L616.40,320.90L616.90,320.91L617.40,320.92L617.90,320.93L618.40,320.94L618.90,320.94L619.40,320.95L619.90,320.95L620.40,320.96L620.90,320.96L621.40,320.96L621.90,320.96L622.40,320.97L622.90,320.97L623.40,320.97L623.90,320.97L624.40,320.97L624.90,320.97L625.40,320.97L625.90,320.97L626.40,320.98L626.90,320.98L627.40,320.97L627.90,320.97L628.40,320.97L628.90,320.97L629.40,320.97L629.90,320.97L630.40,320.97L630.90,320.97L631.40,320.97L631.90,320.97L632.40,320.97L632.90,320.96L633.40,320.96L633.90,320.96L634.40,320.96L634.90,320.96L635.40,320.96L635.90,320.95L636.40,320.95L636.90,320.95L637.40,320.95L637.90,320.95L638.40,320.94L638.90,320.94L639.40,320.94L639.90,320.94L640.40,320.93L640.90,320.93L641.40,320.93L641.90,320.93L642.40,320.92L642.90,320.92L643.40,320.92L643.90,320.92L644.40,320.91L644.90,320.91L645.40,320.91L645.90,320.91L646.40,320.90L646.90,320.90L647.40,320.90L647.90,320.90L648.40,320.89L648.90,320.89L649.40,320.89L649.90,320.89L650.40,320.88L650.90,320.88L651.40,320.88L651.90,320.87L652.40,320.87L652.90,320.87L653.40,320.87L653.90,320.86L654.40,320.86L654.90,320.86L655.40,320.85L655.90,320.85L656.40,320.85L656.90,320.84L657.40,320.84L657.90,320.84L658.40,320.84L658.90,320.83L659.40,320.83L659.90,320.83L660.40,320.82L660.90,320.82L661.40,320.82L661.90,320.81L662.40,320.81L662.90,320.81L663.40,320.81L663.90,320.80L664.40,320.80L664.90,320.80L665.40,320.79L665.90,320.79L666.40,320.79L666.90,320.78L667.40,320.78L667.90,320.78L668.40,320.77L668.90,320.77L669.40,320.77L669.90,320.77L670.40,320.76L670.90,320.76L671.40,320.76L671.90,320.75L672.40,320.75L672.90,320.75L673.40,320.74L673.90,320.74L674.40,320.74L674.90,320.73L675.40,320.73L675.90,320.73L676.40,320.72L676.90,320.72L677.40,320.72L677.90,320.72L678.40,320.71L678.90,320.71L679.40,320.71L679.90,320.70L680.40,320.70L680.90,320.70L681.40,320.69L681.60,320.69" fill="none" stroke="#f00" stroke-width="2.70" stroke-linejoin="round" stroke-linecap="butt"/>
<path d="M408.40,363.31L408.90,363.31L409.40,363.31L409.90,363.30L410.40,363.30L410.90,363.30L411.40,363.30L411.90,363.30L412.40,363.29L412.90,363.29L413.40,363.29L413.90,363.29L414.40,363.29L414.90,363.28L415.40,363.28L415.90,363.28L416.40,363.28L416.90,363.28L417.40,363.27L417.90,363.27L418.40,363.27L418.90,363.27L419.40,363.27L419.90,363.26L420.40,363.26L420.90,363.26L421.40,363.26L421.90,363.26L422.40,363.25L422.90,363.25L423.40,363.25L423.90,363.25L424.40,363.25L424.90,363.24L425.40,363.24L425.90,363.24L426.40,363.24L426.90,363.24L427.40,363.24L427.90,363.23L428.40,363.23L428.90,363.23L429.40,363.23L429.90,363.23L430.40,363.22L430.90,363.22L431.40,363.22L431.90,363.22L432.40,363.22L432.90,363.22L433.40,363.21L433.90,363.21L434.40,363.21L434.90,363.21L435.40,363.21L435.90,363.21L436.40,363.20L436.90,363.20L437.40,363.20L437.90,363.20L438.40,363.20L438.90,363.20L439.40,363.20L439.90,363.19L440.40,363.19L440.90,363.19L441.40,363.19L441.90,363.19L442.40,363.19L442.90,363.19L443.40,363.19L443.90,363.19L444.40,363.18L444.90,363.18L445.40,363.18L445.90,363.18L446.40,363.18L446.90,363.18L447.40,363.18L447.90,363.18L448.40,363.18L448.90,363.18L449.40,363.18L449.90,363.18L450.40,363.18L450.90,363.18L451.40,363.18L451.90,363.18L452.40,363.18L452.90,363.19L453.40,363.19L453.90,363.19L454.40,363.19L454.90,363.19L455.40,363.20L455.90,363.20L456.40,363.21L456.90,363.21L457.40,363.22L457.90,363.22L458.40,363.23L458.90,363.24L459.40,363.25L459.90,363.26L460.40,363.27L460.90,363.29L461.40,363.30L461.90,363.32L462.40,363.35L462.90,363.38L463.40,363.41L463.90,363.45L464.40,363.50L464.90,363.55L465.40,363.63L465.80,363.70L465.90,363.72L465.95,363.73L466.10,363.76L466.25,363.79L466.40,363.83L466.40,363.83L466.55,363.87L466.70,363.91L466.85,363.96L466.90,363.98L467.00,364.01L467.15,364.07L467.30,364.13L467.40,364.17L467.45,364.19L467.60,364.27L467.75,364.35L467.90,364.43L467.90,364.43L468.05,364.53L468.20,364.63L468.35,364.75L468.40,364.79L468.50,364.88L468.65,365.02L468.80,365.18L468.90,365.30L468.95,365.36L469.10,365.56L469.25,365.79L469.40,366.04L469.40,366.04L469.55,366.32L469.70,366.64L469.85,367.00L469.90,367.13L470.00,367.40L470.15,367.86L470.30,368.36L470.40,368.72L470.45,368.91L470.60,369.52L470.75,370.17L470.90,370.85L470.90,370.85L471.05,371.54L471.20,372.19L471.35,372.78L471.40,372.95L471.50,373.25L471.65,373.55L471.80,373.65L471.90,373.61L471.95,373.55L472.10,373.25L472.25,372.78L472.40,372.19L472.40,372.19L472.55,371.53L472.70,370.85L472.85,370.17L472.90,369.94L473.00,369.51L473.15,368.91L473.30,368.35L473.40,368.01L473.45,367.85L473.60,367.39L473.75,366.99L473.90,366.63L473.90,366.63L474.05,366.31L474.20,366.03L474.35,365.77L474.40,365.69L474.50,365.55L474.65,365.35L474.80,365.17L474.90,365.06L474.95,365.01L475.10,364.86L475.25,364.73L475.40,364.61L475.40,364.61L475.55,364.51L475.70,364.41L475.85,364.32L475.90,364.30L476.00,364.24L476.15,364.17L476.30,364.10L476.40,364.06L476.45,364.04L476.60,363.99L476.75,363.93L476.90,363.89L476.90,363.89L477.05,363.84L477.20,363.80L477.35,363.76L477.40,363.75L477.50,363.73L477.65,363.69L477.90,363.64L478.40,363.56L478.90,363.49L479.40,363.43L479.90,363.39L480.40,363.35L480.90,363.32L481.40,363.29L481.90,363.26L482.40,363.24L482.90,363.22L483.40,363.21L483.90,363.19L484.40,363.18L484.90,363.17L485.40,363.16L485.90,363.15L486.40,363.14L486.90,363.14L487.40,363.13L487.90,363.13L488.40,363.12L488.90,363.12L489.40,363.11L489.90,363.11L490.40,363.11L490.90,363.11L491.40,363.10L491.90,363.10L492.40,363.10L492.90,363.10L493.40,363.10L493.90,363.10L494.40,363.11L494.90,363.11L495.40,363.11L495.90,363.11L496.40,363.12L496.90,363.12L497.40,363.12L497.90,363.13L498.40,363.14L498.90,363.14L499.40,363.15L499.90,363.16L500.40,363.17L500.90,363.18L501.40,363.19L501.90,363.20L502.40,363.22L502.90,363.23L503.40,363.25L503.90,363.27L504.40,363.29L504.90,363.32L505.40,363.34L505.90,363.37L506.40,363.41L506.90,363.45L507.40,363.49L507.90,363.54L508.40,363.60L508.90,363.66L509.40,363.74L509.90,363.82L510.40,363.92L510.90,364.04L511.40,364.18L511.90,364.34L512.40,364.54L512.90,364.78L513.40,365.07L513.90,365.44L514.05,365.56L514.20,365.70L514.35,365.85L514.40,365.90L514.50,366.00L514.65,366.17L514.80,366.36L514.90,366.49L514.95,366.56L515.10,366.77L515.25,367.01L515.40,367.26L515.40,367.26L515.55,367.54L515.70,367.84L515.85,368.18L515.90,368.29L516.00,368.54L516.15,368.94L516.30,369.39L516.40,369.71L516.45,369.88L516.60,370.42L516.75,371.03L516.90,371.70L516.90,371.70L517.05,372.45L517.20,373.30L517.35,374.24L517.40,374.58L517.50,375.30L517.65,376.49L517.80,377.83L517.90,378.82L517.95,379.34L518.10,381.03L518.25,382.93L518.40,385.04L518.40,385.04L518.55,387.38L518.70,389.92L518.85,392.66L518.90,393.60L519.00,395.51L519.15,398.39L519.30,401.15L519.40,402.84L519.45,403.61L519.60,405.57L519.75,406.84L519.90,407.28L519.90,407.28L520.05,406.84L520.20,405.57L520.35,403.61L520.40,402.83L520.50,401.14L520.65,398.38L520.80,395.50L520.90,393.58L520.95,392.64L521.10,389.91L521.25,387.36L521.40,385.02L521.40,385.02L521.55,382.91L521.70,381.01L521.85,379.31L521.90,378.79L522.00,377.80L522.15,376.46L522.30,375.27L522.40,374.55L522.45,374.21L522.60,373.26L522.75,372.42L522.90,371.66L522.90,371.66L523.05,370.99L523.20,370.38L523.35,369.84L523.40,369.67L523.50,369.34L523.65,368.90L523.80,368.49L523.90,368.24L523.95,368.13L524.10,367.79L524.25,367.48L524.40,367.20L524.40,367.20L524.55,366.95L524.70,366.71L524.85,366.49L524.90,366.43L525.00,366.29L525.15,366.11L525.30,365.94L525.40,365.83L525.45,365.78L525.60,365.63L525.75,365.49L525.90,365.36L526.40,364.99L526.90,364.69L527.40,364.45L527.90,364.24L528.40,364.07L528.90,363.93L529.40,363.80L529.90,363.70L530.40,363.60L530.90,363.52L531.40,363.45L531.90,363.39L532.40,363.33L532.90,363.28L533.40,363.23L533.90,363.19L534.40,363.15L534.90,363.12L535.40,363.08L535.90,363.05L536.40,363.03L536.90,363.00L537.40,362.98L537.90,362.95L538.40,362.93L538.90,362.91L539.40,362.89L539.90,362.88L540.40,362.86L540.90,362.84L541.40,362.82L541.90,362.81L542.40,362.79L542.90,362.78L543.40,362.76L543.90,362.75L544.40,362.73L544.90,362.72L545.40,362.71L545.90,362.69L546.40,362.68L546.90,362.66L547.40,362.65L547.90,362.63L548.40,362.62L548.90,362.60L549.40,362.59L549.90,362.57L550.40,362.55L550.90,362.54L551.40,362.52L551.90,362.50L552.40,362.48L552.90,362.45L553.40,362.43L553.90,362.41L554.40,362.38L554.90,362.35L555.40,362.32L555.90,362.28L556.40,362.25L556.90,362.21L557.40,362.16L557.90,362.11L558.40,362.05L558.90,361.99L559.40,361.92L559.90,361.84L560.40,361.74L560.90,361.63L561.40,361.50L561.90,361.35L562.40,361.17L562.90,360.96L563.40,360.69L563.90,360.36L564.30,360.04L564.40,359.95L564.45,359.90L564.60,359.75L564.75,359.59L564.90,359.41L564.90,359.41L565.05,359.22L565.20,359.02L565.35,358.80L565.40,358.72L565.50,358.55L565.65,358.29L565.80,357.99L565.90,357.78L565.95,357.67L566.10,357.32L566.25,356.93L566.40,356.49L566.40,356.49L566.55,356.01L566.70,355.48L566.85,354.88L566.90,354.67L567.00,354.21L567.15,353.46L567.30,352.62L567.40,351.99L567.45,351.66L567.60,350.58L567.75,349.36L567.90,347.97L567.90,347.97L568.05,346.39L568.20,344.61L568.35,342.60L568.40,341.87L568.50,340.33L568.65,337.81L568.80,335.05L568.90,333.10L568.95,332.09L569.10,329.01L569.25,325.94L569.40,323.07L569.40,323.07L569.55,320.65L569.70,318.92L569.85,318.08L569.90,318.02L570.00,318.25L570.15,319.40L570.30,321.39L570.40,323.06L570.45,323.98L570.60,326.94L570.75,330.03L570.90,333.08L570.90,333.08L571.05,335.98L571.20,338.67L571.35,341.10L571.40,341.85L571.50,343.27L571.65,345.21L571.80,346.92L571.90,347.94L571.95,348.42L572.10,349.75L572.25,350.93L572.40,351.96L572.40,351.96L572.55,352.87L572.70,353.69L572.85,354.41L572.90,354.63L573.00,355.05L573.15,355.62L573.30,356.14L573.40,356.45L573.45,356.60L573.60,357.01L573.75,357.39L573.90,357.73L573.90,357.73L574.05,358.04L574.20,358.32L574.35,358.58L574.40,358.66L574.50,358.81L574.65,359.03L574.80,359.23L574.90,359.35L574.95,359.41L575.10,359.58L575.25,359.73L575.40,359.87L575.40,359.87L575.90,360.28L576.40,360.60L576.90,360.86L577.40,361.07L577.90,361.25L578.40,361.39L578.90,361.51L579.40,361.62L579.90,361.70L580.40,361.78L580.90,361.84L581.40,361.90L581.90,361.95L582.40,361.99L582.90,362.03L583.40,362.06L583.90,362.09L584.40,362.12L584.90,362.14L585.40,362.16L585.90,362.18L586.40,362.20L586.90,362.22L587.40,362.23L587.90,362.24L588.40,362.25L588.90,362.26L589.40,362.27L589.90,362.28L590.40,362.28L590.90,362.29L591.40,362.30L591.90,362.30L592.40,362.30L592.90,362.31L593.40,362.31L593.90,362.31L594.40,362.31L594.90,362.32L595.40,362.32L595.90,362.32L596.40,362.32L596.90,362.32L597.40,362.32L597.90,362.32L598.40,362.31L598.90,362.31L599.40,362.31L599.90,362.31L600.40,362.30L600.90,362.30L601.40,362.29L601.90,362.29L602.40,362.28L602.90,362.28L603.40,362.27L603.90,362.26L604.40,362.25L604.90,362.24L605.40,362.23L605.90,362.21L606.40,362.20L606.90,362.18L607.40,362.16L607.90,362.14L608.40,362.11L608.90,362.08L609.40,362.04L609.90,362.00L610.40,361.94L610.90,361.88L611.40,361.80L611.60,361.76L611.75,361.73L611.90,361.70L612.05,361.67L612.20,361.63L612.35,361.59L612.40,361.58L612.50,361.55L612.65,361.50L612.80,361.45L612.90,361.42L612.95,361.40L613.10,361.34L613.25,361.27L613.40,361.20L613.40,361.20L613.55,361.12L613.70,361.04L613.85,360.94L613.90,360.91L614.00,360.84L614.15,360.73L614.30,360.60L614.40,360.51L614.45,360.46L614.60,360.30L614.75,360.13L614.90,359.93L614.90,359.93L615.05,359.71L615.20,359.47L615.35,359.19L615.40,359.09L615.50,358.88L615.65,358.53L615.80,358.14L615.90,357.85L615.95,357.70L616.10,357.21L616.25,356.67L616.40,356.08L616.40,356.08L616.55,355.44L616.70,354.78L616.85,354.12L616.90,353.90L617.00,353.48L617.15,352.91L617.30,352.45L617.40,352.23L617.45,352.16L617.60,352.05L617.75,352.16L617.90,352.45L617.90,352.45L618.05,352.90L618.20,353.47L618.35,354.11L618.40,354.33L618.50,354.78L618.65,355.44L618.80,356.07L618.90,356.47L618.95,356.66L619.10,357.20L619.25,357.69L619.40,358.13L619.40,358.13L619.55,358.52L619.70,358.87L619.85,359.18L619.90,359.27L620.00,359.45L620.15,359.70L620.30,359.92L620.40,360.05L620.45,360.11L620.60,360.28L620.75,360.44L620.90,360.58L620.90,360.58L621.05,360.71L621.20,360.82L621.35,360.92L621.40,360.95L621.50,361.01L621.65,361.10L621.80,361.18L621.90,361.22L621.95,361.25L622.10,361.31L622.25,361.37L622.40,361.42L622.40,361.42L622.55,361.47L622.70,361.52L622.85,361.56L622.90,361.57L623.00,361.60L623.15,361.64L623.30,361.67L623.40,361.69L623.45,361.70L623.90,361.78L624.40,361.85L624.90,361.91L625.40,361.96L625.90,362.00L626.40,362.03L626.90,362.06L627.40,362.09L627.90,362.11L628.40,362.12L628.90,362.14L629.40,362.15L629.90,362.16L630.40,362.17L630.90,362.18L631.40,362.19L631.90,362.19L632.40,362.20L632.90,362.20L633.40,362.21L633.90,362.21L634.40,362.21L634.90,362.22L635.40,362.22L635.90,362.22L636.40,362.22L636.90,362.22L637.40,362.22L637.90,362.23L638.40,362.23L638.90,362.23L639.40,362.23L639.90,362.23L640.40,362.23L640.90,362.23L641.40,362.23L641.90,362.23L642.40,362.23L642.90,362.22L643.40,362.22L643.90,362.22L644.40,362.22L644.90,362.22L645.40,362.22L645.90,362.22L646.40,362.22L646.90,362.22L647.40,362.22L647.90,362.22L648.40,362.21L648.90,362.21L649.40,362.21L649.90,362.21L650.40,362.21L650.90,362.21L651.40,362.21L651.90,362.20L652.40,362.20L652.90,362.20L653.40,362.20L653.90,362.20L654.40,362.20L654.90,362.19L655.40,362.19L655.90,362.19L656.40,362.19L656.90,362.19L657.40,362.19L657.90,362.18L658.40,362.18L658.90,362.18L659.40,362.18L659.90,362.18L660.40,362.18L660.90,362.17L661.40,362.17L661.90,362.17L662.40,362.17L662.90,362.17L663.40,362.16L663.90,362.16L664.40,362.16L664.90,362.16L665.40,362.16L665.90,362.15L666.40,362.15L666.90,362.15L667.40,362.15L667.90,362.15L668.40,362.15L668.90,362.14L669.40,362.14L669.90,362.14L670.40,362.14L670.90,362.14L671.40,362.13L671.90,362.13L672.40,362.13L672.90,362.13L673.40,362.13L673.90,362.12L674.40,362.12L674.90,362.12L675.40,362.12L675.90,362.12L676.40,362.11L676.90,362.11L677.40,362.11L677.90,362.11L678.40,362.10L678.90,362.10L679.40,362.10L679.90,362.10L680.40,362.10L680.90,362.09L681.40,362.09L681.60,362.09" fill="none" stroke="#00f" stroke-width="2.70" stroke-linejoin="round" stroke-linecap="butt"/>
<rect x="48.70" y="25.40" width="273.30" height="163.80" fill="none" stroke="#111" stroke-width="1.3"/>
<rect x="408.40" y="25.40" width="273.10" height="163.80" fill="none" stroke="#111" stroke-width="1.3"/>
<rect x="48.90" y="260.80" width="273.10" height="163.60" fill="none" stroke="#111" stroke-width="1.3"/>
<rect x="408.40" y="260.80" width="273.20" height="163.60" fill="none" stroke="#111" stroke-width="1.3"/>
<text x="44.81" y="206.30" class="tk">0</text>
<text x="120.17" y="206.30" class="tk">2</text>
<text x="195.53" y="206.30" class="tk">4</text>
<text x="270.89" y="206.30" class="tk">6</text>
<text x="404.51" y="206.30" class="tk">0</text>
<text x="479.79" y="206.30" class="tk">2</text>
<text x="555.07" y="206.30" class="tk">4</text>
<text x="630.35" y="206.30" class="tk">6</text>
<text x="36.81" y="194.60" class="tk">0</text>
<path d="M41.60,140.00V130.20M41.60,130.40Q40.70,132.10 38.30,132.50" stroke="#000" stroke-width="1.45" fill="none"/>
<text x="36.81" y="85.40" class="tk">2</text>
<text x="36.81" y="30.80" class="tk">3</text>
<text x="396.51" y="194.60" class="tk">0</text>
<path d="M401.30,140.00V130.20M401.30,130.40Q400.40,132.10 398.00,132.50" stroke="#000" stroke-width="1.45" fill="none"/>
<text x="396.51" y="85.40" class="tk">2</text>
<text x="396.51" y="30.80" class="tk">3</text>
<text x="45.01" y="441.60" class="tk">3</text>
<text x="36.01" y="441.60" class="tk">−</text>
<text x="90.52" y="441.60" class="tk">2</text>
<text x="81.66" y="441.60" class="tk">−</text>
<path d="M140.83,441.60V431.80M140.83,432.00Q139.93,433.70 137.73,434.10" stroke="#000" stroke-width="1.45" fill="none"/>
<text x="127.77" y="441.60" class="tk">−</text>
<text x="181.56" y="441.60" class="tk">0</text>
<path d="M231.87,441.60V431.80M231.87,432.00Q230.97,433.70 228.77,434.10" stroke="#000" stroke-width="1.45" fill="none"/>
<text x="272.59" y="441.60" class="tk">2</text>
<text x="318.11" y="441.60" class="tk">3</text>
<text x="404.51" y="441.60" class="tk">3</text>
<text x="395.51" y="441.60" class="tk">−</text>
<text x="450.04" y="441.60" class="tk">2</text>
<text x="441.18" y="441.60" class="tk">−</text>
<path d="M500.37,441.60V431.80M500.37,432.00Q499.47,433.70 497.27,434.10" stroke="#000" stroke-width="1.45" fill="none"/>
<text x="487.31" y="441.60" class="tk">−</text>
<text x="541.11" y="441.60" class="tk">0</text>
<path d="M591.43,441.60V431.80M591.43,432.00Q590.53,433.70 588.33,434.10" stroke="#000" stroke-width="1.45" fill="none"/>
<text x="632.17" y="441.60" class="tk">2</text>
<text x="677.71" y="441.60" class="tk">3</text>
<rect x="84.4" y="28.9" width="204.8" height="79.6" fill="#fff" stroke="#000" stroke-width="1.1"/>
<path d="M92,45.1H131" stroke="#00f" stroke-width="2.8"/><path d="M92,73.3H131" stroke="#f00" stroke-width="2.8"/>
<rect x="92.3" y="86.6" width="38.5" height="21.6" fill="#0f0" stroke="#000" stroke-width="1.1"/>
<text x="134.46" y="47.60" style="font-family:&quot;Liberation Sans&quot;;font-size:13.50px" fill="#000">ω</text>
<text x="145.0" y="54.6" class="sub">phonon</text>
<text x="134.46" y="75.60" style="font-family:&quot;Liberation Sans&quot;;font-size:13.50px" fill="#000">ω</text>
<text x="145.0" y="82.6" class="sub">Leggett mode</text>
<text x="134.6" y="102.3" class="lg2">two−particle continuum</text>
<rect x="546.4" y="28.6" width="123.2" height="58.8" fill="#fff" stroke="#000" stroke-width="1.1"/>
<path d="M553.8,43.7H590.8" stroke="#00f" stroke-width="2.8"/><path d="M553.8,70.8H590.8" stroke="#f00" stroke-width="2.8"/>
<text x="594.44" y="46.60" style="font-family:&quot;Liberation Serif&quot;;font-size:14.00px;font-weight:bold" fill="#000">ω</text>
<text x="605.0" y="54.0" class="subs">phonon</text>
<text x="594.44" y="73.90" style="font-family:&quot;Liberation Serif&quot;;font-size:14.00px;font-weight:bold" fill="#000">ω</text>
<text x="605.0" y="81.3" class="subs">Leggett mode</text>
<text x="126.03" y="13.80" style="font-family:&quot;Liberation Serif&quot;;font-size:14.30px" fill="#000">(</text>
<text transform="translate(130.93,13.80) scale(1.100,1)" style="font-family:&quot;Liberation Serif&quot;;font-size:14.30px;font-style:italic" fill="#000">a</text>
<text x="139.97" y="13.80" style="font-family:&quot;Liberation Serif&quot;;font-size:14.30px" fill="#000">)</text>
<text x="147.76" y="13.80" style="font-family:&quot;Liberation Serif&quot;;font-size:14.30px" fill="#000">:</text>
<text transform="translate(155.02,13.80) scale(1.150,1)" style="font-family:&quot;Liberation Serif&quot;;font-size:14.30px;font-style:italic" fill="#000">U</text>
<text transform="translate(187.57,13.80) scale(1.100,1)" style="font-family:&quot;Liberation Serif&quot;;font-size:14.30px" fill="#000">2</text>
<text transform="translate(194.78,13.80) scale(1.250,1)" style="font-family:&quot;Liberation Serif&quot;;font-size:14.30px;font-style:italic" fill="#000">t</text>
<text x="200.93" y="13.80" style="font-family:&quot;Liberation Serif&quot;;font-size:14.30px" fill="#000">,</text>
<text transform="translate(206.06,13.80) scale(1.300,1)" style="font-family:&quot;Liberation Serif&quot;;font-size:14.30px;font-style:italic" fill="#000">n</text>
<text transform="translate(234.95,13.80) scale(1.050,1)" style="font-family:&quot;Liberation Serif&quot;;font-size:14.30px" fill="#000">3</text>
<path d="M173.10,8.60H183.00M173.10,11.50H183.00" stroke="#555" stroke-width="1.00" fill="none"/>
<path d="M220.90,8.60H230.80M220.90,11.50H230.80" stroke="#555" stroke-width="1.00" fill="none"/>
<text x="486.73" y="13.80" style="font-family:&quot;Liberation Serif&quot;;font-size:14.30px" fill="#000">(</text>
<text transform="translate(491.67,13.80) scale(1.100,1)" style="font-family:&quot;Liberation Serif&quot;;font-size:14.30px;font-style:italic" fill="#000">b</text>
<text x="498.87" y="13.80" style="font-family:&quot;Liberation Serif&quot;;font-size:14.30px" fill="#000">)</text>
<text x="507.76" y="13.80" style="font-family:&quot;Liberation Serif&quot;;font-size:14.30px" fill="#000">:</text>
<text transform="translate(515.02,13.80) scale(1.150,1)" style="font-family:&quot;Liberation Serif&quot;;font-size:14.30px;font-style:italic" fill="#000">U</text>
<text transform="translate(547.41,13.80) scale(1.100,1)" style="font-family:&quot;Liberation Serif&quot;;font-size:14.30px" fill="#000">3</text>
<text transform="translate(554.78,13.80) scale(1.250,1)" style="font-family:&quot;Liberation Serif&quot;;font-size:14.30px;font-style:italic" fill="#000">t</text>
<text x="560.93" y="13.80" style="font-family:&quot;Liberation Serif&quot;;font-size:14.30px" fill="#000">,</text>
<text transform="translate(566.06,13.80) scale(1.300,1)" style="font-family:&quot;Liberation Serif&quot;;font-size:14.30px;font-style:italic" fill="#000">n</text>
<text transform="translate(594.95,13.80) scale(1.050,1)" style="font-family:&quot;Liberation Serif&quot;;font-size:14.30px" fill="#000">3</text>
<path d="M533.10,8.60H543.00M533.10,11.50H543.00" stroke="#555" stroke-width="1.00" fill="none"/>
<path d="M580.90,8.60H590.80M580.90,11.50H590.80" stroke="#555" stroke-width="1.00" fill="none"/>
<text x="486.03" y="248.60" style="font-family:&quot;Liberation Serif&quot;;font-size:14.30px" fill="#000">(</text>
<text transform="translate(490.93,248.60) scale(1.100,1)" style="font-family:&quot;Liberation Serif&quot;;font-size:14.30px;font-style:italic" fill="#000">d</text>
<text x="499.17" y="248.60" style="font-family:&quot;Liberation Serif&quot;;font-size:14.30px" fill="#000">)</text>
<text x="507.76" y="248.60" style="font-family:&quot;Liberation Serif&quot;;font-size:14.30px" fill="#000">:</text>
<text transform="translate(515.02,248.60) scale(1.150,1)" style="font-family:&quot;Liberation Serif&quot;;font-size:14.30px;font-style:italic" fill="#000">U</text>
<text transform="translate(547.41,248.60) scale(1.100,1)" style="font-family:&quot;Liberation Serif&quot;;font-size:14.30px" fill="#000">3</text>
<text transform="translate(554.78,248.60) scale(1.250,1)" style="font-family:&quot;Liberation Serif&quot;;font-size:14.30px;font-style:italic" fill="#000">t</text>
<text x="560.93" y="248.60" style="font-family:&quot;Liberation Serif&quot;;font-size:14.30px" fill="#000">,</text>
<text transform="translate(566.06,248.60) scale(1.300,1)" style="font-family:&quot;Liberation Serif&quot;;font-size:14.30px;font-style:italic" fill="#000">n</text>
<text transform="translate(594.95,248.60) scale(1.050,1)" style="font-family:&quot;Liberation Serif&quot;;font-size:14.30px" fill="#000">3</text>
<path d="M533.10,243.40H543.00M533.10,246.30H543.00" stroke="#555" stroke-width="1.00" fill="none"/>
<path d="M580.90,243.40H590.80M580.90,246.30H590.80" stroke="#555" stroke-width="1.00" fill="none"/>
<text x="117.19" y="250.80" style="font-family:&quot;Liberation Serif&quot;;font-size:17.80px" fill="#000">(</text>
<text transform="translate(123.11,250.80) scale(1.100,1)" style="font-family:&quot;Liberation Serif&quot;;font-size:17.80px;font-style:italic" fill="#000">c</text>
<text x="132.87" y="250.80" style="font-family:&quot;Liberation Serif&quot;;font-size:17.80px" fill="#000">)</text>
<text x="141.98" y="250.80" style="font-family:&quot;Liberation Serif&quot;;font-size:17.80px" fill="#000">:</text>
<text transform="translate(150.36,250.80) scale(1.150,1)" style="font-family:&quot;Liberation Serif&quot;;font-size:17.80px;font-style:italic" fill="#000">U</text>
<text transform="translate(189.12,250.80) scale(1.100,1)" style="font-family:&quot;Liberation Serif&quot;;font-size:17.80px" fill="#000">2</text>
<text transform="translate(198.61,250.80) scale(1.250,1)" style="font-family:&quot;Liberation Serif&quot;;font-size:17.80px;font-style:italic" fill="#000">t</text>
<text x="205.59" y="250.80" style="font-family:&quot;Liberation Serif&quot;;font-size:17.80px" fill="#000">,</text>
<text transform="translate(212.37,250.80) scale(1.300,1)" style="font-family:&quot;Liberation Serif&quot;;font-size:17.80px;font-style:italic" fill="#000">n</text>
<text transform="translate(245.67,250.80) scale(1.050,1)" style="font-family:&quot;Liberation Serif&quot;;font-size:17.80px" fill="#000">3</text>
<path d="M171.40,244.50H183.00M171.40,248.20H183.00" stroke="#555" stroke-width="1.20" fill="none"/>
<path d="M228.20,244.50H240.20M228.20,248.20H240.20" stroke="#555" stroke-width="1.20" fill="none"/>
<text x="178.97" y="223.00" style="font-family:&quot;Liberation Serif&quot;;font-size:24.40px;font-style:italic" fill="#000">q</text>
<text x="538.67" y="223.00" style="font-family:&quot;Liberation Serif&quot;;font-size:24.40px;font-style:italic" fill="#000">q</text>
<text transform="translate(26.40,0) rotate(-90)" x="-123.27" y="0" style="font-family:&quot;Liberation Serif&quot;;font-size:19.00px;font-style:italic">ω</text>
<path d="M31.30,108.30L11.60,101.40" stroke="#000" stroke-width="1.05"/>
<text transform="translate(26.40,0) rotate(-90)" x="-100.86" y="0" style="font-family:&quot;Liberation Serif&quot;;font-size:21.50px;font-style:italic">t</text>
<text transform="translate(386.10,0) rotate(-90)" x="-123.27" y="0" style="font-family:&quot;Liberation Serif&quot;;font-size:19.00px;font-style:italic">ω</text>
<path d="M391.00,108.30L371.30,101.40" stroke="#000" stroke-width="1.05"/>
<text transform="translate(386.10,0) rotate(-90)" x="-100.86" y="0" style="font-family:&quot;Liberation Serif&quot;;font-size:21.50px;font-style:italic">t</text>
<text x="169.34" y="461.40" style="font-family:&quot;Liberation Serif&quot;;font-size:18.50px;font-style:italic" fill="#000">ω</text>
<path d="M184.00,466.60L191.90,446.90" stroke="#000" stroke-width="1.05"/>
<text x="192.96" y="461.40" style="font-family:&quot;Liberation Serif&quot;;font-size:21.00px;font-style:italic" fill="#000">t</text>
<text x="529.35" y="461.40" style="font-family:&quot;Liberation Serif&quot;;font-size:18.50px;font-style:italic" fill="#000">ω</text>
<path d="M544.00,466.60L551.90,446.90" stroke="#000" stroke-width="1.05"/>
<text x="552.96" y="461.40" style="font-family:&quot;Liberation Serif&quot;;font-size:21.00px;font-style:italic" fill="#000">t</text>
<text transform="translate(32.20,0) rotate(-90) translate(-404.19,0) scale(1.300,1)" style="font-family:&quot;Liberation Serif&quot;;font-size:23.00px">∑</text>
<text transform="translate(36.60,0) rotate(-90)" x="-384.35" y="0" style="font-family:&quot;Liberation Serif&quot;;font-size:12.50px;font-style:italic">i</text>
<text transform="translate(32.20,0) rotate(-90)" x="-371.48" y="0" style="font-family:&quot;Liberation Serif&quot;;font-size:20.50px;font-style:italic">A</text>
<text transform="translate(35.20,0) rotate(-90)" x="-358.95" y="0" style="font-family:&quot;Liberation Serif&quot;;font-size:12.50px;font-style:italic">i</text>
<text transform="translate(35.20,0) rotate(-90)" x="-353.05" y="0" style="font-family:&quot;Liberation Serif&quot;;font-size:12.50px;font-style:italic">i</text>
<text transform="translate(32.20,0) rotate(-90)" x="-346.66" y="0" style="font-family:&quot;Liberation Serif&quot;;font-size:21.50px">(</text>
<text transform="translate(32.20,0) rotate(-90)" x="-337.98" y="0" style="font-family:&quot;Liberation Serif&quot;;font-size:19.50px;font-style:italic">q</text>
<text transform="translate(32.20,0) rotate(-90)" x="-328.98" y="0" style="font-family:&quot;Liberation Serif&quot;;font-size:19.50px">,</text>
<text transform="translate(32.20,0) rotate(-90)" x="-322.25" y="0" style="font-family:&quot;Liberation Serif&quot;;font-size:18.50px;font-style:italic">ω</text>
<text transform="translate(32.20,0) rotate(-90)" x="-309.25" y="0" style="font-family:&quot;Liberation Serif&quot;;font-size:21.50px">)</text>
<text transform="translate(395.60,0) rotate(-90) translate(-397.69,0) scale(1.300,1)" style="font-family:&quot;Liberation Serif&quot;;font-size:23.00px">∑</text>
<text transform="translate(400.00,0) rotate(-90)" x="-377.85" y="0" style="font-family:&quot;Liberation Serif&quot;;font-size:12.50px;font-style:italic">i</text>
<text transform="translate(395.60,0) rotate(-90)" x="-364.98" y="0" style="font-family:&quot;Liberation Serif&quot;;font-size:20.50px;font-style:italic">A</text>
<text transform="translate(398.60,0) rotate(-90)" x="-352.45" y="0" style="font-family:&quot;Liberation Serif&quot;;font-size:12.50px;font-style:italic">i</text>
<text transform="translate(398.60,0) rotate(-90)" x="-346.55" y="0" style="font-family:&quot;Liberation Serif&quot;;font-size:12.50px;font-style:italic">i</text>
<text transform="translate(395.60,0) rotate(-90)" x="-340.16" y="0" style="font-family:&quot;Liberation Serif&quot;;font-size:21.50px">(</text>
<text transform="translate(395.60,0) rotate(-90)" x="-331.48" y="0" style="font-family:&quot;Liberation Serif&quot;;font-size:19.50px;font-style:italic">q</text>
<text transform="translate(395.60,0) rotate(-90)" x="-322.48" y="0" style="font-family:&quot;Liberation Serif&quot;;font-size:19.50px">,</text>
<text transform="translate(395.60,0) rotate(-90)" x="-315.75" y="0" style="font-family:&quot;Liberation Serif&quot;;font-size:18.50px;font-style:italic">ω</text>
<text transform="translate(395.60,0) rotate(-90)" x="-302.75" y="0" style="font-family:&quot;Liberation Serif&quot;;font-size:21.50px">)</text>
</svg>
</body></html>
